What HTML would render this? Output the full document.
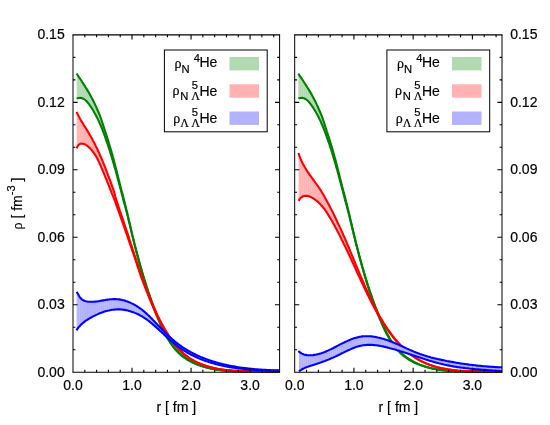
<!DOCTYPE html>
<html><head><meta charset="utf-8"><title>density</title>
<style>html,body{margin:0;padding:0;background:#fff}body{width:550px;height:425px;overflow:hidden}svg{will-change:transform;transform:translateZ(0)}</style></head>
<body>
<svg width="550" height="425" viewBox="0 0 550 425" style="display:block;font-family:'Liberation Sans',sans-serif"><style>text{stroke:#000;stroke-width:0.18px;fill:#000}</style>
<rect x="0" y="0" width="550" height="425" fill="#ffffff"/>
<defs><clipPath id="cl"><rect x="73.0" y="34.9" width="207.2" height="338.1"/></clipPath><clipPath id="cr"><rect x="294.7" y="34.9" width="207.9" height="338.1"/></clipPath></defs>
<g clip-path="url(#cl)">
<g fill="#b2d9b2" stroke="none"><path d="M76.68 73.65L77.68 75.17L77.68 98.25L76.68 98.57Z"/><path d="M77.43 74.79L79.75 78.29L79.75 97.86L77.43 98.33Z"/><path d="M79.50 77.92L81.81 81.42L81.81 98.13L79.50 97.91Z"/><path d="M81.56 81.04L83.88 84.59L83.88 99.01L81.56 98.10Z"/><path d="M83.63 84.21L85.95 87.85L85.95 100.61L83.63 98.91Z"/><path d="M85.70 87.46L88.01 91.25L88.01 102.82L85.70 100.42Z"/><path d="M87.76 90.84L90.08 94.84L90.08 105.64L87.76 102.56Z"/><path d="M89.83 94.41L92.14 98.69L92.14 108.81L89.83 105.30Z"/><path d="M91.89 98.23L94.21 102.81L94.21 112.25L91.89 108.43Z"/><path d="M93.96 102.31L96.28 107.20L96.28 116.00L93.96 111.84Z"/><path d="M96.03 106.67L98.34 111.92L98.34 120.13L96.03 115.55Z"/><path d="M98.09 111.35L100.41 116.94L100.41 124.74L98.09 119.63Z"/><path d="M100.16 116.34L102.47 122.93L102.47 129.81L100.16 124.19Z"/><path d="M102.22 122.22L104.54 129.49L104.54 135.33L102.22 129.20Z"/><path d="M104.29 128.71L106.61 135.81L106.61 141.27L104.29 134.67Z"/><path d="M106.36 135.04L108.67 142.46L108.67 147.44L106.36 140.56Z"/><path d="M108.42 141.66L110.74 149.24L110.74 153.91L108.42 146.70Z"/><path d="M110.49 148.42L112.80 156.46L112.80 160.75L110.49 153.13Z"/><path d="M112.55 155.60L114.87 164.12L114.87 167.94L112.55 159.93Z"/><path d="M114.62 163.20L116.94 172.29L116.94 175.55L114.62 167.07Z"/><path d="M116.69 171.31L119.00 180.84L119.00 183.31L116.69 174.63Z"/><path d="M118.75 179.81L121.07 188.69L121.07 191.04L118.75 182.37Z"/><path d="M120.82 187.73L123.13 196.79L123.13 199.01L120.82 190.10Z"/><path d="M122.88 195.81L125.20 204.99L125.20 206.73L122.88 198.05Z"/><path d="M124.95 204.00L127.27 213.23L127.27 214.46L124.95 205.79Z"/><path d="M127.02 212.24L129.33 222.07L129.33 222.92L127.02 213.52Z"/><path d="M129.08 221.01L131.40 231.04L131.40 231.47L129.08 221.90Z"/><path d="M131.15 229.96L133.46 239.77L133.46 239.95L131.15 230.44Z"/><path d="M133.21 238.71L135.53 247.95L135.53 248.03L133.21 238.92Z"/><path d="M135.28 246.95L137.60 255.81L137.60 255.94L135.28 247.05Z"/><path d="M137.35 254.85L139.66 263.34L139.66 263.66L137.35 254.98Z"/><path d="M139.41 262.42L141.73 270.52L141.73 271.14L139.41 262.72Z"/><path d="M141.48 269.64L143.79 277.41L143.79 278.32L141.48 270.23Z"/><path d="M143.54 276.57L145.86 284.03L145.86 285.18L143.54 277.44Z"/><path d="M145.61 283.22L147.93 290.38L147.93 291.70L145.61 284.34Z"/><path d="M147.68 289.61L149.99 296.36L149.99 297.79L147.68 290.90Z"/><path d="M149.74 295.63L152.06 302.13L152.06 303.60L149.74 297.04Z"/><path d="M151.81 301.43L154.12 307.70L154.12 309.13L151.81 302.89Z"/><path d="M153.87 307.02L156.19 313.10L156.19 314.37L153.87 308.45Z"/><path d="M155.94 312.45L158.26 318.29L158.26 319.36L155.94 313.73Z"/><path d="M158.01 317.66L160.32 323.15L160.32 324.13L158.01 318.75Z"/><path d="M160.07 322.56L162.39 327.68L162.39 328.60L160.07 323.55Z"/><path d="M162.14 327.12L164.45 331.85L164.45 332.81L162.14 328.06Z"/><path d="M164.20 331.34L166.52 335.73L166.52 336.70L164.20 332.30Z"/><path d="M166.27 335.25L168.59 339.24L168.59 340.22L166.27 336.23Z"/><path d="M168.34 338.81L170.65 342.42L170.65 343.41L168.34 339.79Z"/><path d="M170.40 342.03L172.72 345.31L172.72 346.29L170.40 343.02Z"/><path d="M172.47 344.96L174.78 347.91L174.78 348.87L172.47 345.94Z"/><path d="M174.53 347.59L176.85 350.26L176.85 351.19L174.53 348.55Z"/><path d="M176.60 349.97L178.92 352.40L178.92 353.28L176.60 350.91Z"/><path d="M178.67 352.13L180.98 354.30L180.98 355.13L178.67 353.02Z"/><path d="M180.73 354.07L183.05 356.02L183.05 356.79L180.73 354.90Z"/><path d="M182.80 355.81L185.11 357.58L185.11 358.27L182.80 356.58Z"/><path d="M184.86 357.39L187.18 358.97L187.18 359.59L184.86 358.09Z"/><path d="M186.93 358.80L189.25 360.25L189.25 360.79L186.93 359.43Z"/><path d="M189.00 360.09L191.31 361.41L191.31 361.89L189.00 360.65Z"/><path d="M191.06 361.27L193.38 362.48L193.38 362.88L191.06 361.75Z"/><path d="M193.13 362.35L195.44 363.45L195.44 363.78L193.13 362.76Z"/><path d="M195.19 363.33L197.51 364.34L197.51 364.60L195.19 363.67Z"/><path d="M197.26 364.23L199.58 365.15L199.58 365.35L197.26 364.50Z"/><path d="M199.33 365.05L201.64 365.89L201.64 366.04L199.33 365.26Z"/><path d="M201.39 365.80L203.71 366.58L203.71 366.67L201.39 365.96Z"/><path d="M203.46 366.49L205.77 367.20L205.77 367.24L203.46 366.59Z"/><path d="M205.52 367.12L207.84 367.76L207.84 367.76L205.52 367.17Z"/><path d="M207.59 367.69L209.91 368.27L209.91 368.24L207.59 367.70Z"/><path d="M209.66 368.21L211.97 368.73L211.97 368.67L209.66 368.18Z"/><path d="M211.72 368.67L214.04 369.14L214.04 369.05L211.72 368.61Z"/><path d="M213.79 369.09L216.10 369.51L216.10 369.40L213.79 369.00Z"/><path d="M215.85 369.46L218.17 369.83L218.17 369.71L215.85 369.35Z"/><path d="M217.92 369.79L220.24 370.11L220.24 369.98L217.92 369.67Z"/><path d="M219.99 370.08L222.30 370.36L222.30 370.22L219.99 369.94Z"/><path d="M222.05 370.33L224.37 370.56L224.37 370.43L222.05 370.19Z"/><path d="M224.12 370.54L226.43 370.74L226.43 370.61L224.12 370.40Z"/><path d="M226.18 370.72L228.50 370.88L228.50 370.76L226.18 370.59Z"/><path d="M228.25 370.87L230.57 371.00L230.57 370.89L228.25 370.74Z"/><path d="M230.32 370.99L232.63 371.10L232.63 371.00L230.32 370.87Z"/><path d="M232.38 371.08L234.70 371.17L234.70 371.08L232.38 370.98Z"/><path d="M234.45 371.16L236.76 371.22L236.76 371.15L234.45 371.07Z"/><path d="M236.51 371.21L238.83 371.25L238.83 371.20L236.51 371.14Z"/><path d="M238.58 371.25L240.90 371.27L240.90 371.23L238.58 371.19Z"/><path d="M240.65 371.27L242.96 371.28L242.96 371.26L240.65 371.23Z"/><path d="M242.71 371.28L245.03 371.27L245.03 371.27L242.71 371.25Z"/><path d="M244.78 371.27L247.09 371.26L247.09 371.27L244.78 371.27Z"/><path d="M246.84 371.26L249.16 371.24L249.16 371.27L246.84 371.27Z"/><path d="M248.91 371.24L251.23 371.22L251.23 371.27L248.91 371.27Z"/><path d="M250.98 371.22L253.29 371.19L253.29 371.26L250.98 371.27Z"/><path d="M253.04 371.20L255.36 371.17L255.36 371.26L253.04 371.26Z"/><path d="M255.11 371.18L257.42 371.15L257.42 371.25L255.11 371.26Z"/><path d="M257.17 371.16L259.49 371.14L259.49 371.26L257.17 371.25Z"/><path d="M259.24 371.14L261.56 371.14L261.56 371.26L259.24 371.26Z"/><path d="M261.31 371.14L263.62 371.15L263.62 371.28L261.31 371.26Z"/><path d="M263.37 371.15L265.69 371.17L265.69 371.31L263.37 371.28Z"/><path d="M265.44 371.17L267.75 371.21L267.75 371.35L265.44 371.30Z"/><path d="M267.50 371.20L269.82 371.26L269.82 371.40L267.50 371.34Z"/><path d="M269.57 371.26L271.89 371.34L271.89 371.47L269.57 371.40Z"/><path d="M271.64 371.33L273.95 371.45L273.95 371.57L271.64 371.47Z"/><path d="M273.70 371.43L276.02 371.58L276.02 371.68L273.70 371.55Z"/><path d="M275.77 371.56L278.08 371.74L278.08 371.81L275.77 371.66Z"/><path d="M277.83 371.72L279.35 371.86L279.35 371.91L277.83 371.80Z"/></g>
<path d="M76.6 73.5 L77.7 75.2 L78.8 76.9 L80.0 78.6 L81.1 80.3 L82.2 82.0 L83.3 83.7 L84.4 85.4 L85.5 87.2 L86.6 88.9 L87.6 90.6 L88.7 92.4 L89.7 94.1 L90.7 95.9 L91.6 97.7 L92.6 99.5 L93.5 101.3 L94.4 103.1 L95.2 104.9 L96.1 106.8 L96.9 108.6 L97.7 110.5 L98.5 112.3 L99.3 114.2 L100.1 116.1 L100.8 118.0 L101.4 119.9 L102.1 121.8 L102.7 123.7 L103.3 125.6 L103.9 127.5 L104.5 129.4 L105.1 131.3 L105.8 133.2 L106.4 135.1 L107.0 137.1 L107.6 139.0 L108.2 140.9 L108.8 142.9 L109.4 144.8 L110.0 146.8 L110.6 148.7 L111.2 150.7 L111.7 152.6 L112.3 154.6 L112.8 156.5 L113.4 158.5 L113.9 160.5 L114.4 162.4 L114.9 164.4 L115.4 166.4 L115.9 168.4 L116.4 170.3 L116.9 172.3 L117.4 174.3 L117.9 176.3 L118.4 178.2 L118.9 180.2 L119.4 182.2 L119.9 184.2 L120.4 186.2 L120.9 188.2 L121.4 190.2 L122.0 192.1 L122.5 194.1 L123.0 196.1 L123.5 198.1 L124.0 200.1 L124.5 202.1 L125.0 204.1 L125.5 206.1 L126.0 208.1 L126.5 210.0 L127.0 212.0 L127.5 214.0 L127.9 216.0 L128.4 218.0 L128.8 220.0 L129.3 222.0 L129.8 223.9 L130.2 225.9 L130.7 227.9 L131.1 229.9 L131.6 231.9 L132.1 233.8 L132.5 235.8 L133.0 237.8 L133.5 239.8 L134.0 241.7 L134.4 243.7 L134.9 245.7 L135.4 247.6 L136.0 249.6 L136.5 251.5 L137.0 253.5 L137.5 255.4 L138.0 257.4 L138.6 259.3 L139.1 261.3 L139.6 263.2 L140.2 265.2 L140.7 267.1 L141.3 269.0 L141.9 271.0 L142.4 272.9 L143.0 274.8 L143.6 276.8 L144.2 278.7 L144.8 280.6 L145.4 282.6 L146.0 284.5 L146.6 286.4 L147.3 288.4 L147.9 290.3 L148.6 292.3 L149.2 294.2 L149.9 296.1 L150.6 298.1 L151.3 300.0 L152.0 302.0 L152.7 303.9 L153.4 305.8 L154.2 307.8 L154.9 309.7 L155.6 311.7 L156.4 313.6 L157.2 315.6 L158.0 317.5 L158.8 319.5 L159.6 321.4 L160.4 323.3 L161.3 325.3 L162.1 327.1 L163.1 329.0 L164.0 330.9 L164.9 332.7 L165.9 334.5 L166.9 336.3 L167.9 338.1 L168.9 339.8 L170.0 341.5 L171.2 343.1 L172.3 344.8 L173.5 346.4 L174.8 347.9 L176.1 349.4 L177.4 350.8 L178.8 352.2 L180.2 353.6 L181.7 354.9 L183.2 356.1 L184.8 357.3 L186.4 358.4 L188.0 359.5 L189.7 360.5 L191.5 361.5 L193.3 362.4 L195.1 363.3 L196.9 364.1 L198.8 364.9 L200.7 365.6 L202.7 366.2 L204.6 366.9 L206.6 367.4 L208.6 367.9 L210.6 368.4 L212.6 368.9 L214.6 369.3 L216.6 369.6 L218.7 369.9 L220.7 370.2 L222.8 370.4 L224.8 370.6 L226.9 370.8 L228.9 370.9 L231.0 371.0 L233.1 371.1 L235.1 371.2 L237.2 371.2 L239.2 371.3 L241.3 371.3 L243.4 371.3 L245.4 371.3 L247.5 371.3 L249.6 371.2 L251.6 371.2 L253.7 371.2 L255.7 371.2 L257.8 371.2 L259.8 371.1 L261.9 371.1 L263.9 371.1 L265.9 371.2 L267.9 371.2 L269.9 371.3 L271.9 371.3 L273.9 371.4 L275.9 371.6 L277.9 371.7 L279.8 371.9" fill="none" stroke="#008000" stroke-width="2.10" stroke-linejoin="round"/>
<path d="M76.7 98.6 L78.6 98.0 L80.5 97.9 L82.2 98.2 L83.8 99.0 L85.2 100.0 L86.6 101.3 L87.9 102.8 L89.2 104.4 L90.4 106.1 L91.5 107.8 L92.6 109.5 L93.6 111.2 L94.6 113.0 L95.6 114.7 L96.5 116.4 L97.4 118.2 L98.2 119.9 L99.1 121.7 L99.8 123.5 L100.6 125.2 L101.3 127.0 L102.1 128.8 L102.8 130.6 L103.4 132.4 L104.1 134.2 L104.8 136.0 L105.4 137.8 L106.0 139.6 L106.6 141.4 L107.3 143.2 L107.9 145.0 L108.5 146.8 L109.1 148.7 L109.7 150.5 L110.2 152.3 L110.8 154.2 L111.4 156.0 L111.9 157.9 L112.5 159.7 L113.0 161.6 L113.6 163.4 L114.1 165.3 L114.6 167.1 L115.2 169.0 L115.7 170.8 L116.2 172.7 L116.7 174.6 L117.2 176.5 L117.7 178.3 L118.2 180.2 L118.7 182.1 L119.2 184.0 L119.7 185.8 L120.2 187.7 L120.7 189.6 L121.2 191.5 L121.7 193.4 L122.2 195.3 L122.7 197.1 L123.1 199.0 L123.6 200.9 L124.1 202.8 L124.7 204.7 L125.2 206.6 L125.7 208.5 L126.2 210.4 L126.7 212.3 L127.2 214.2 L127.7 216.1 L128.1 217.9 L128.6 219.8 L129.0 221.7 L129.5 223.6 L130.0 225.5 L130.4 227.4 L130.9 229.3 L131.3 231.2 L131.8 233.1 L132.2 235.0 L132.7 236.9 L133.2 238.7 L133.6 240.6 L134.1 242.5 L134.6 244.4 L135.1 246.3 L135.6 248.1 L136.0 250.0 L136.5 251.9 L137.0 253.8 L137.5 255.6 L138.0 257.5 L138.5 259.4 L139.0 261.2 L139.5 263.1 L140.0 265.0 L140.5 266.8 L141.0 268.7 L141.6 270.5 L142.1 272.4 L142.6 274.2 L143.1 276.1 L143.7 277.9 L144.2 279.8 L144.8 281.6 L145.3 283.4 L145.9 285.3 L146.5 287.1 L147.0 289.0 L147.6 290.8 L148.2 292.6 L148.9 294.5 L149.5 296.3 L150.1 298.1 L150.8 300.0 L151.4 301.8 L152.1 303.6 L152.7 305.4 L153.4 307.3 L154.1 309.1 L154.8 310.9 L155.6 312.8 L156.3 314.6 L157.0 316.4 L157.8 318.3 L158.6 320.1 L159.4 321.9 L160.2 323.7 L161.0 325.6 L161.8 327.4 L162.7 329.2 L163.5 331.0 L164.4 332.7 L165.3 334.5 L166.3 336.2 L167.2 337.9 L168.2 339.6 L169.3 341.3 L170.3 342.9 L171.4 344.5 L172.5 346.0 L173.7 347.6 L174.9 349.0 L176.2 350.5 L177.5 351.8 L178.8 353.2 L180.2 354.4 L181.6 355.7 L183.1 356.8 L184.7 357.9 L186.2 359.0 L187.9 360.0 L189.5 360.9 L191.2 361.8 L192.9 362.7 L194.7 363.5 L196.5 364.2 L198.3 364.9 L200.2 365.6 L202.0 366.2 L203.9 366.7 L205.8 367.3 L207.7 367.7 L209.6 368.2 L211.6 368.6 L213.5 369.0 L215.4 369.3 L217.4 369.6 L219.3 369.9 L221.2 370.1 L223.2 370.3 L225.1 370.5 L227.0 370.7 L228.9 370.8 L230.9 370.9 L232.8 371.0 L234.7 371.1 L236.7 371.1 L238.6 371.2 L240.5 371.2 L242.5 371.3 L244.4 371.3 L246.4 371.3 L248.3 371.3 L250.2 371.3 L252.2 371.3 L254.1 371.3 L256.0 371.3 L258.0 371.3 L259.9 371.3 L261.9 371.3 L263.8 371.3 L265.7 371.3 L267.7 371.3 L269.6 371.4 L271.6 371.5 L273.5 371.5 L275.5 371.6 L277.4 371.8 L279.4 371.9" fill="none" stroke="#008000" stroke-width="2.10" stroke-linejoin="round"/>

<g fill="#ffb2b2" stroke="none"><path d="M76.70 111.85L77.68 114.11L77.68 145.98L76.70 148.29Z"/><path d="M77.43 113.54L79.75 118.18L79.75 144.05L77.43 146.56Z"/><path d="M79.50 117.68L81.81 121.79L81.81 143.56L79.50 144.32Z"/><path d="M81.56 121.35L83.88 125.19L83.88 143.95L81.56 143.65Z"/><path d="M83.63 124.78L85.95 128.46L85.95 144.90L83.63 143.91Z"/><path d="M85.70 128.06L88.01 131.81L88.01 146.44L85.70 144.80Z"/><path d="M87.76 131.40L90.08 135.32L90.08 148.35L87.76 146.26Z"/><path d="M89.83 134.90L92.14 139.00L92.14 150.68L89.83 148.13Z"/><path d="M91.89 138.56L94.21 142.85L94.21 153.44L91.89 150.40Z"/><path d="M93.96 142.39L96.28 146.88L96.28 156.76L93.96 153.11Z"/><path d="M96.03 146.39L98.34 151.12L98.34 160.71L96.03 156.36Z"/><path d="M98.09 150.61L100.41 155.89L100.41 165.23L98.09 160.24Z"/><path d="M100.16 155.32L102.47 160.81L102.47 170.00L100.16 164.69Z"/><path d="M102.22 160.22L104.54 165.94L104.54 174.93L102.22 169.42Z"/><path d="M104.29 165.32L106.61 171.24L106.61 180.00L104.29 174.34Z"/><path d="M106.36 170.61L108.67 176.67L108.67 185.21L106.36 179.39Z"/><path d="M108.42 176.01L110.74 182.29L110.74 190.54L108.42 184.58Z"/><path d="M110.49 181.61L112.80 188.10L112.80 195.72L110.49 189.89Z"/><path d="M112.55 187.40L114.87 194.53L114.87 200.89L112.55 195.09Z"/><path d="M114.62 193.76L116.94 202.17L116.94 206.57L114.62 200.26Z"/><path d="M116.69 201.26L119.00 208.03L119.00 212.32L116.69 205.89Z"/><path d="M118.75 207.30L121.07 214.21L121.07 218.15L118.75 211.62Z"/><path d="M120.82 213.47L123.13 220.35L123.13 224.04L120.82 217.44Z"/><path d="M122.88 219.60L125.20 226.47L125.20 229.99L122.88 223.33Z"/><path d="M124.95 225.73L127.27 232.64L127.27 235.98L124.95 229.27Z"/><path d="M127.02 231.90L129.33 238.84L129.33 241.99L127.02 235.26Z"/><path d="M129.08 238.09L131.40 245.24L131.40 247.97L129.08 241.26Z"/><path d="M131.15 244.47L133.46 251.69L133.46 253.94L131.15 247.25Z"/><path d="M133.21 250.91L135.53 258.06L135.53 259.97L133.21 253.22Z"/><path d="M135.28 257.29L137.60 264.34L137.60 266.33L135.28 259.25Z"/><path d="M137.35 263.58L139.66 270.50L139.66 272.56L137.35 265.56Z"/><path d="M139.41 269.75L141.73 276.50L141.73 278.40L139.41 271.80Z"/><path d="M141.48 275.77L143.79 282.13L143.79 283.88L141.48 277.69Z"/><path d="M143.54 281.45L145.86 287.65L145.86 289.29L143.54 283.21Z"/><path d="M145.61 286.98L147.93 292.99L147.93 294.56L145.61 288.63Z"/><path d="M147.68 292.34L149.99 298.21L149.99 299.71L147.68 293.92Z"/><path d="M149.74 297.58L152.06 303.21L152.06 304.65L149.74 299.09Z"/><path d="M151.81 302.61L154.12 307.98L154.12 309.36L151.81 304.05Z"/><path d="M153.87 307.40L156.19 312.51L156.19 313.85L153.87 308.79Z"/><path d="M155.94 311.96L158.26 316.82L158.26 318.08L155.94 313.31Z"/><path d="M158.01 316.29L160.32 320.88L160.32 322.07L158.01 317.56Z"/><path d="M160.07 320.39L162.39 324.76L162.39 325.88L160.07 321.59Z"/><path d="M162.14 324.29L164.45 328.44L164.45 329.50L162.14 325.42Z"/><path d="M164.20 327.99L166.52 331.93L166.52 332.93L164.20 329.06Z"/><path d="M166.27 331.51L168.59 335.23L168.59 336.17L166.27 332.51Z"/><path d="M168.34 334.83L170.65 338.37L170.65 339.24L168.34 335.77Z"/><path d="M170.40 337.98L172.72 341.29L172.72 342.09L170.40 338.86Z"/><path d="M172.47 340.93L174.78 344.01L174.78 344.74L172.47 341.74Z"/><path d="M174.53 343.67L176.85 346.52L176.85 347.18L174.53 344.41Z"/><path d="M176.60 346.22L178.92 348.84L178.92 349.44L176.60 346.88Z"/><path d="M178.67 348.55L180.98 350.97L180.98 351.51L178.67 349.16Z"/><path d="M180.73 350.71L183.05 352.93L183.05 353.40L180.73 351.26Z"/><path d="M182.80 352.69L185.11 354.71L185.11 355.13L182.80 353.17Z"/><path d="M184.86 354.49L187.18 356.34L187.18 356.71L184.86 354.92Z"/><path d="M186.93 356.14L189.25 357.80L189.25 358.12L186.93 356.51Z"/><path d="M189.00 357.62L191.31 359.14L191.31 359.42L189.00 357.95Z"/><path d="M191.06 358.98L193.38 360.37L193.38 360.59L191.06 359.26Z"/><path d="M193.13 360.22L195.44 361.47L195.44 361.66L193.13 360.45Z"/><path d="M195.19 361.33L197.51 362.49L197.51 362.65L195.19 361.53Z"/><path d="M197.26 362.36L199.58 363.42L199.58 363.55L197.26 362.53Z"/><path d="M199.33 363.30L201.64 364.27L201.64 364.37L199.33 363.44Z"/><path d="M201.39 364.17L203.71 365.05L203.71 365.13L201.39 364.27Z"/><path d="M203.46 364.95L205.77 365.76L205.77 365.82L203.46 365.04Z"/><path d="M205.52 365.67L207.84 366.41L207.84 366.45L205.52 365.74Z"/><path d="M207.59 366.33L209.91 367.01L209.91 367.03L207.59 366.37Z"/><path d="M209.66 366.94L211.97 367.55L211.97 367.56L209.66 366.96Z"/><path d="M211.72 367.49L214.04 368.04L214.04 368.04L211.72 367.49Z"/><path d="M213.79 367.98L216.10 368.48L216.10 368.47L213.79 367.98Z"/><path d="M215.85 368.43L218.17 368.88L218.17 368.86L215.85 368.42Z"/><path d="M217.92 368.83L220.24 369.23L220.24 369.22L217.92 368.82Z"/><path d="M219.99 369.19L222.30 369.55L222.30 369.53L219.99 369.17Z"/><path d="M222.05 369.51L224.37 369.83L224.37 369.81L222.05 369.49Z"/><path d="M224.12 369.80L226.43 370.08L226.43 370.06L224.12 369.78Z"/><path d="M226.18 370.05L228.50 370.30L228.50 370.28L226.18 370.03Z"/><path d="M228.25 370.27L230.57 370.48L230.57 370.47L228.25 370.25Z"/><path d="M230.32 370.46L232.63 370.64L232.63 370.63L230.32 370.44Z"/><path d="M232.38 370.62L234.70 370.78L234.70 370.77L232.38 370.61Z"/><path d="M234.45 370.76L236.76 370.89L236.76 370.89L234.45 370.76Z"/><path d="M236.51 370.87L238.83 370.98L238.83 370.99L236.51 370.88Z"/><path d="M238.58 370.97L240.90 371.06L240.90 371.07L238.58 370.98Z"/><path d="M240.65 371.05L242.96 371.12L242.96 371.13L240.65 371.06Z"/><path d="M242.71 371.11L245.03 371.16L245.03 371.19L242.71 371.13Z"/><path d="M244.78 371.16L247.09 371.20L247.09 371.22L244.78 371.18Z"/><path d="M246.84 371.19L249.16 371.22L249.16 371.25L246.84 371.22Z"/><path d="M248.91 371.22L251.23 371.23L251.23 371.28L248.91 371.25Z"/><path d="M250.98 371.23L253.29 371.25L253.29 371.29L250.98 371.27Z"/><path d="M253.04 371.24L255.36 371.25L255.36 371.30L253.04 371.29Z"/><path d="M255.11 371.25L257.42 371.26L257.42 371.31L255.11 371.30Z"/><path d="M257.17 371.26L259.49 371.27L259.49 371.32L257.17 371.31Z"/><path d="M259.24 371.26L261.56 371.27L261.56 371.33L259.24 371.32Z"/><path d="M261.31 371.27L263.62 371.29L263.62 371.35L261.31 371.33Z"/><path d="M263.37 371.29L265.69 371.31L265.69 371.37L263.37 371.35Z"/><path d="M265.44 371.31L267.75 371.34L267.75 371.40L265.44 371.37Z"/><path d="M267.50 371.33L269.82 371.38L269.82 371.44L267.50 371.40Z"/><path d="M269.57 371.37L271.89 371.43L271.89 371.49L269.57 371.43Z"/><path d="M271.64 371.43L273.95 371.50L273.95 371.55L271.64 371.48Z"/><path d="M273.70 371.50L276.02 371.59L276.02 371.63L273.70 371.54Z"/><path d="M275.77 371.58L278.08 371.70L278.08 371.73L275.77 371.62Z"/><path d="M277.83 371.69L279.45 371.79L279.45 371.80L277.83 371.72Z"/></g>
<path d="M76.7 111.9 L77.4 113.5 L78.2 115.2 L79.0 116.8 L79.9 118.5 L80.8 120.1 L81.7 121.6 L82.7 123.2 L83.6 124.8 L84.6 126.4 L85.6 127.9 L86.6 129.5 L87.6 131.1 L88.5 132.6 L89.4 134.2 L90.4 135.8 L91.3 137.4 L92.2 139.1 L93.0 140.7 L93.9 142.3 L94.8 143.9 L95.6 145.6 L96.4 147.2 L97.3 148.9 L98.0 150.5 L98.8 152.2 L99.5 153.8 L100.2 155.5 L101.0 157.2 L101.7 158.9 L102.4 160.5 L103.0 162.2 L103.7 163.9 L104.4 165.6 L105.1 167.3 L105.7 169.0 L106.4 170.7 L107.0 172.4 L107.7 174.1 L108.3 175.8 L109.0 177.5 L109.6 179.2 L110.2 180.9 L110.9 182.7 L111.5 184.4 L112.1 186.1 L112.7 187.8 L113.3 189.6 L113.9 191.3 L114.4 193.0 L114.9 194.8 L115.3 196.5 L115.8 198.2 L116.2 200.0 L116.9 201.7 L117.5 203.5 L118.0 205.2 L118.6 207.0 L119.2 208.7 L119.8 210.5 L120.4 212.2 L121.0 214.0 L121.6 215.7 L122.2 217.5 L122.8 219.2 L123.4 221.0 L123.9 222.7 L124.5 224.5 L125.1 226.3 L125.7 228.0 L126.3 229.8 L126.9 231.5 L127.5 233.3 L128.1 235.0 L128.7 236.8 L129.2 238.6 L129.8 240.3 L130.4 242.1 L130.9 243.8 L131.5 245.6 L132.1 247.3 L132.6 249.1 L133.2 250.9 L133.8 252.6 L134.3 254.4 L134.9 256.1 L135.5 257.9 L136.0 259.6 L136.6 261.4 L137.2 263.1 L137.8 264.9 L138.4 266.6 L138.9 268.3 L139.5 270.1 L140.1 271.8 L140.7 273.6 L141.3 275.3 L141.9 277.0 L142.6 278.8 L143.2 280.5 L143.8 282.2 L144.5 283.9 L145.1 285.7 L145.8 287.4 L146.4 289.1 L147.1 290.8 L147.8 292.5 L148.4 294.2 L149.1 296.0 L149.8 297.7 L150.5 299.4 L151.2 301.1 L151.9 302.7 L152.6 304.4 L153.3 306.1 L154.1 307.8 L154.8 309.5 L155.6 311.2 L156.3 312.8 L157.1 314.5 L157.9 316.2 L158.8 317.8 L159.6 319.5 L160.5 321.1 L161.3 322.8 L162.2 324.4 L163.1 326.0 L164.0 327.7 L165.0 329.3 L165.9 330.9 L166.9 332.5 L167.9 334.1 L168.9 335.7 L169.9 337.3 L171.0 338.8 L172.0 340.3 L173.1 341.8 L174.2 343.3 L175.4 344.8 L176.6 346.2 L177.8 347.6 L179.0 348.9 L180.3 350.2 L181.6 351.5 L182.9 352.8 L184.2 354.0 L185.6 355.1 L187.1 356.2 L188.5 357.3 L190.0 358.3 L191.5 359.3 L193.1 360.2 L194.7 361.1 L196.3 361.9 L197.9 362.7 L199.6 363.4 L201.3 364.1 L203.0 364.8 L204.7 365.4 L206.5 366.0 L208.2 366.5 L210.0 367.0 L211.8 367.5 L213.6 367.9 L215.4 368.3 L217.2 368.7 L219.0 369.0 L220.8 369.3 L222.6 369.6 L224.5 369.8 L226.3 370.1 L228.1 370.3 L230.0 370.4 L231.8 370.6 L233.7 370.7 L235.5 370.8 L237.4 370.9 L239.3 371.0 L241.1 371.1 L243.0 371.1 L244.8 371.2 L246.7 371.2 L248.6 371.2 L250.4 371.2 L252.3 371.2 L254.1 371.2 L256.0 371.3 L257.8 371.3 L259.7 371.3 L261.5 371.3 L263.4 371.3 L265.2 371.3 L267.1 371.3 L268.9 371.4 L270.7 371.4 L272.5 371.5 L274.3 371.5 L276.2 371.6 L278.0 371.7 L279.7 371.8" fill="none" stroke="#ff0000" stroke-width="2.10" stroke-linejoin="round"/>
<path d="M76.7 148.3 L77.5 146.3 L78.6 144.9 L79.9 144.0 L81.3 143.6 L82.8 143.7 L84.3 144.1 L85.8 144.8 L87.2 145.8 L88.6 147.0 L90.0 148.2 L91.2 149.6 L92.4 151.0 L93.4 152.4 L94.4 153.8 L95.4 155.3 L96.3 156.8 L97.1 158.3 L97.9 159.8 L98.6 161.4 L99.4 163.0 L100.1 164.5 L100.8 166.1 L101.5 167.7 L102.2 169.3 L102.8 170.9 L103.5 172.5 L104.2 174.1 L104.8 175.7 L105.5 177.3 L106.1 178.9 L106.8 180.5 L107.4 182.1 L108.1 183.7 L108.7 185.3 L109.3 186.9 L109.9 188.5 L110.6 190.1 L111.2 191.7 L111.8 193.3 L112.5 194.9 L113.2 196.6 L113.8 198.2 L114.5 199.8 L115.1 201.4 L115.7 203.1 L116.2 204.7 L116.8 206.3 L117.4 207.9 L118.0 209.6 L118.6 211.2 L119.2 212.8 L119.8 214.4 L120.3 216.1 L120.9 217.7 L121.5 219.3 L122.1 221.0 L122.6 222.6 L123.2 224.2 L123.8 225.9 L124.3 227.5 L124.9 229.1 L125.5 230.8 L126.0 232.4 L126.6 234.0 L127.2 235.7 L127.7 237.3 L128.3 239.0 L128.9 240.6 L129.4 242.2 L130.0 243.9 L130.5 245.5 L131.1 247.1 L131.7 248.8 L132.2 250.4 L132.8 252.0 L133.4 253.7 L133.9 255.3 L134.5 256.9 L135.1 258.6 L135.6 260.2 L136.1 261.8 L136.7 263.5 L137.2 265.1 L137.7 266.7 L138.3 268.3 L138.8 270.0 L139.3 271.6 L139.9 273.2 L140.4 274.8 L141.0 276.5 L141.6 278.1 L142.2 279.7 L142.8 281.3 L143.4 282.9 L144.0 284.5 L144.7 286.2 L145.3 287.8 L145.9 289.4 L146.5 291.0 L147.2 292.6 L147.8 294.2 L148.4 295.8 L149.1 297.4 L149.7 299.0 L150.4 300.6 L151.0 302.2 L151.7 303.8 L152.4 305.4 L153.1 306.9 L153.8 308.5 L154.5 310.1 L155.2 311.7 L155.9 313.2 L156.6 314.8 L157.4 316.4 L158.2 317.9 L159.0 319.5 L159.8 321.0 L160.6 322.6 L161.4 324.1 L162.3 325.7 L163.1 327.2 L164.0 328.7 L164.9 330.3 L165.8 331.8 L166.7 333.3 L167.7 334.8 L168.7 336.3 L169.6 337.7 L170.6 339.2 L171.6 340.6 L172.7 342.0 L173.7 343.4 L174.8 344.8 L175.9 346.1 L177.0 347.4 L178.2 348.7 L179.4 349.9 L180.6 351.1 L181.8 352.3 L183.1 353.5 L184.4 354.6 L185.7 355.6 L187.1 356.6 L188.5 357.6 L189.9 358.6 L191.4 359.5 L192.9 360.3 L194.4 361.1 L195.9 361.9 L197.4 362.6 L199.0 363.3 L200.6 364.0 L202.2 364.6 L203.8 365.2 L205.5 365.7 L207.1 366.2 L208.8 366.7 L210.5 367.2 L212.2 367.6 L213.8 368.0 L215.5 368.4 L217.2 368.7 L218.9 369.0 L220.6 369.3 L222.4 369.5 L224.1 369.8 L225.8 370.0 L227.5 370.2 L229.2 370.3 L231.0 370.5 L232.7 370.6 L234.4 370.8 L236.2 370.9 L237.9 370.9 L239.6 371.0 L241.4 371.1 L243.1 371.1 L244.8 371.2 L246.6 371.2 L248.3 371.2 L250.1 371.3 L251.8 371.3 L253.5 371.3 L255.3 371.3 L257.0 371.3 L258.8 371.3 L260.5 371.3 L262.2 371.3 L264.0 371.4 L265.7 371.4 L267.4 371.4 L269.2 371.4 L270.9 371.5 L272.6 371.5 L274.3 371.6 L276.0 371.6 L277.7 371.7 L279.4 371.8" fill="none" stroke="#ff0000" stroke-width="2.10" stroke-linejoin="round"/>

<g fill="#b2b2ff" stroke="none"><path d="M76.61 291.79L77.68 293.52L77.68 328.56L76.61 330.17Z"/><path d="M77.43 293.12L79.75 297.00L79.75 326.01L77.43 328.93Z"/><path d="M79.50 296.58L81.81 299.37L81.81 323.95L79.50 326.32Z"/><path d="M81.56 299.06L83.88 300.61L83.88 322.20L81.56 324.20Z"/><path d="M83.63 300.45L85.95 301.28L85.95 320.66L83.63 322.41Z"/><path d="M85.70 301.19L88.01 301.64L88.01 319.29L85.70 320.85Z"/><path d="M87.76 301.59L90.08 301.81L90.08 318.05L87.76 319.46Z"/><path d="M89.83 301.78L92.14 301.82L92.14 316.91L89.83 318.21Z"/><path d="M91.89 301.82L94.21 301.72L94.21 315.85L91.89 317.05Z"/><path d="M93.96 301.73L96.28 301.50L96.28 314.85L93.96 315.98Z"/><path d="M96.03 301.53L98.34 301.22L98.34 313.92L96.03 314.97Z"/><path d="M98.09 301.25L100.41 300.88L100.41 313.07L98.09 314.04Z"/><path d="M100.16 300.92L102.47 300.52L102.47 312.30L100.16 313.18Z"/><path d="M102.22 300.56L104.54 300.15L104.54 311.61L102.22 312.39Z"/><path d="M104.29 300.19L106.61 299.80L106.61 311.00L104.29 311.69Z"/><path d="M106.36 299.85L108.67 299.50L108.67 310.49L106.36 311.08Z"/><path d="M108.42 299.54L110.74 299.27L110.74 310.06L108.42 310.55Z"/><path d="M110.49 299.30L112.80 299.12L112.80 309.74L110.49 310.12Z"/><path d="M112.55 299.14L114.87 299.09L114.87 309.52L112.55 309.78Z"/><path d="M114.62 299.09L116.94 299.19L116.94 309.40L114.62 309.54Z"/><path d="M116.69 299.18L119.00 299.41L119.00 309.40L116.69 309.41Z"/><path d="M118.75 299.39L121.07 299.75L121.07 309.50L118.75 309.40Z"/><path d="M120.82 299.71L123.13 300.20L123.13 309.72L120.82 309.49Z"/><path d="M122.88 300.15L125.20 300.77L125.20 310.03L122.88 309.69Z"/><path d="M124.95 300.71L127.27 301.46L127.27 310.45L124.95 309.99Z"/><path d="M127.02 301.37L129.33 302.25L129.33 310.96L127.02 310.40Z"/><path d="M129.08 302.16L131.40 303.17L131.40 311.58L129.08 310.90Z"/><path d="M131.15 303.06L133.46 304.20L133.46 312.30L131.15 311.51Z"/><path d="M133.21 304.07L135.53 305.34L135.53 313.13L133.21 312.22Z"/><path d="M135.28 305.21L137.60 306.62L137.60 314.06L135.28 313.03Z"/><path d="M137.35 306.47L139.66 308.02L139.66 315.10L137.35 313.95Z"/><path d="M139.41 307.86L141.73 309.56L141.73 316.26L139.41 314.98Z"/><path d="M141.48 309.37L143.79 311.22L143.79 317.53L141.48 316.12Z"/><path d="M143.54 311.02L145.86 313.00L145.86 318.92L143.54 317.38Z"/><path d="M145.61 312.79L147.93 314.90L147.93 320.41L145.61 318.75Z"/><path d="M147.68 314.67L149.99 316.89L149.99 322.00L147.68 320.23Z"/><path d="M149.74 316.65L152.06 318.97L152.06 323.69L149.74 321.81Z"/><path d="M151.81 318.72L154.12 321.12L154.12 325.46L151.81 323.49Z"/><path d="M153.87 320.86L156.19 323.30L156.19 327.28L153.87 325.24Z"/><path d="M155.94 323.04L158.26 325.50L158.26 329.17L155.94 327.06Z"/><path d="M158.01 325.23L160.32 327.69L160.32 331.08L158.01 328.94Z"/><path d="M160.07 327.42L162.39 329.84L162.39 333.00L160.07 330.85Z"/><path d="M162.14 329.58L164.45 331.93L164.45 334.92L162.14 332.77Z"/><path d="M164.20 331.68L166.52 333.97L166.52 336.81L164.20 334.68Z"/><path d="M166.27 333.72L168.59 335.93L168.59 338.67L166.27 336.58Z"/><path d="M168.34 335.70L170.65 337.83L170.65 340.49L168.34 338.44Z"/><path d="M170.40 337.60L172.72 339.65L172.72 342.24L170.40 340.27Z"/><path d="M172.47 339.42L174.78 341.38L174.78 343.94L172.47 342.03Z"/><path d="M174.53 341.17L176.85 343.04L176.85 345.57L174.53 343.74Z"/><path d="M176.60 342.84L178.92 344.61L178.92 347.12L176.60 345.37Z"/><path d="M178.67 344.42L180.98 346.10L180.98 348.59L178.67 346.93Z"/><path d="M180.73 345.92L183.05 347.50L183.05 349.98L180.73 348.41Z"/><path d="M182.80 347.33L185.11 348.83L185.11 351.28L182.80 349.81Z"/><path d="M184.86 348.67L187.18 350.09L187.18 352.51L184.86 351.12Z"/><path d="M186.93 349.94L189.25 351.28L189.25 353.68L186.93 352.36Z"/><path d="M189.00 351.13L191.31 352.41L191.31 354.78L189.00 353.53Z"/><path d="M191.06 352.27L193.38 353.48L193.38 355.82L191.06 354.64Z"/><path d="M193.13 353.35L195.44 354.50L195.44 356.81L193.13 355.69Z"/><path d="M195.19 354.38L197.51 355.47L197.51 357.74L195.19 356.69Z"/><path d="M197.26 355.35L199.58 356.40L199.58 358.63L197.26 357.63Z"/><path d="M199.33 356.28L201.64 357.27L201.64 359.47L199.33 358.52Z"/><path d="M201.39 357.17L203.71 358.11L203.71 360.26L201.39 359.37Z"/><path d="M203.46 358.01L205.77 358.91L205.77 361.01L203.46 360.17Z"/><path d="M205.52 358.81L207.84 359.67L207.84 361.72L205.52 360.92Z"/><path d="M207.59 359.58L209.91 360.39L209.91 362.39L207.59 361.64Z"/><path d="M209.66 360.30L211.97 361.07L211.97 363.02L209.66 362.31Z"/><path d="M211.72 360.99L214.04 361.73L214.04 363.62L211.72 362.95Z"/><path d="M213.79 361.65L216.10 362.34L216.10 364.18L213.79 363.55Z"/><path d="M215.85 362.27L218.17 362.93L218.17 364.71L215.85 364.11Z"/><path d="M217.92 362.86L220.24 363.48L220.24 365.21L217.92 364.65Z"/><path d="M219.99 363.42L222.30 364.01L222.30 365.67L219.99 365.15Z"/><path d="M222.05 363.95L224.37 364.51L224.37 366.11L222.05 365.62Z"/><path d="M224.12 364.45L226.43 364.98L226.43 366.52L224.12 366.06Z"/><path d="M226.18 364.92L228.50 365.42L228.50 366.90L226.18 366.47Z"/><path d="M228.25 365.37L230.57 365.84L230.57 367.26L228.25 366.85Z"/><path d="M230.32 365.79L232.63 366.23L232.63 367.59L230.32 367.21Z"/><path d="M232.38 366.18L234.70 366.60L234.70 367.90L232.38 367.55Z"/><path d="M234.45 366.56L236.76 366.95L236.76 368.19L234.45 367.86Z"/><path d="M236.51 366.91L238.83 367.27L238.83 368.46L236.51 368.16Z"/><path d="M238.58 367.23L240.90 367.58L240.90 368.71L238.58 368.43Z"/><path d="M240.65 367.54L242.96 367.86L242.96 368.94L240.65 368.68Z"/><path d="M242.71 367.83L245.03 368.13L245.03 369.15L242.71 368.91Z"/><path d="M244.78 368.10L247.09 368.38L247.09 369.34L244.78 369.12Z"/><path d="M246.84 368.35L249.16 368.61L249.16 369.52L246.84 369.32Z"/><path d="M248.91 368.58L251.23 368.82L251.23 369.69L248.91 369.50Z"/><path d="M250.98 368.79L253.29 369.02L253.29 369.84L250.98 369.67Z"/><path d="M253.04 368.99L255.36 369.20L255.36 369.98L253.04 369.82Z"/><path d="M255.11 369.18L257.42 369.37L257.42 370.10L255.11 369.96Z"/><path d="M257.17 369.35L259.49 369.52L259.49 370.22L257.17 370.09Z"/><path d="M259.24 369.50L261.56 369.66L261.56 370.32L259.24 370.20Z"/><path d="M261.31 369.64L263.62 369.79L263.62 370.42L261.31 370.31Z"/><path d="M263.37 369.77L265.69 369.91L265.69 370.51L263.37 370.41Z"/><path d="M265.44 369.89L267.75 370.01L267.75 370.59L265.44 370.50Z"/><path d="M267.50 370.00L269.82 370.11L269.82 370.66L267.50 370.58Z"/><path d="M269.57 370.09L271.89 370.19L271.89 370.73L269.57 370.65Z"/><path d="M271.64 370.18L273.95 370.27L273.95 370.79L271.64 370.72Z"/><path d="M273.70 370.26L276.02 370.33L276.02 370.85L273.70 370.79Z"/><path d="M275.77 370.33L278.08 370.40L278.08 370.91L275.77 370.85Z"/><path d="M277.83 370.39L279.59 370.43L279.59 370.95L277.83 370.90Z"/></g>
<path d="M76.6 291.8 L77.2 292.7 L77.8 293.7 L78.4 294.7 L79.0 295.8 L79.6 296.8 L80.3 297.8 L81.1 298.6 L81.9 299.4 L82.9 300.0 L83.8 300.6 L84.9 301.0 L86.0 301.3 L87.1 301.5 L88.2 301.7 L89.3 301.8 L90.4 301.8 L91.6 301.8 L92.7 301.8 L93.9 301.7 L95.0 301.6 L96.1 301.5 L97.3 301.4 L98.4 301.2 L99.6 301.0 L100.7 300.8 L101.9 300.6 L103.0 300.4 L104.2 300.2 L105.4 300.0 L106.5 299.8 L107.7 299.6 L108.8 299.5 L110.0 299.3 L111.1 299.2 L112.3 299.2 L113.4 299.1 L114.6 299.1 L115.7 299.1 L116.9 299.2 L118.0 299.3 L119.1 299.4 L120.3 299.6 L121.4 299.8 L122.5 300.1 L123.6 300.3 L124.7 300.6 L125.8 301.0 L126.9 301.3 L128.0 301.7 L129.1 302.2 L130.2 302.6 L131.2 303.1 L132.3 303.6 L133.3 304.1 L134.3 304.7 L135.3 305.2 L136.3 305.8 L137.3 306.4 L138.2 307.1 L139.2 307.7 L140.1 308.4 L141.0 309.0 L142.0 309.7 L142.9 310.5 L143.7 311.2 L144.6 311.9 L145.5 312.7 L146.3 313.4 L147.2 314.2 L148.0 315.0 L148.9 315.8 L149.7 316.6 L150.5 317.4 L151.3 318.2 L152.1 319.0 L152.9 319.9 L153.7 320.7 L154.5 321.5 L155.3 322.4 L156.1 323.2 L156.9 324.1 L157.7 324.9 L158.5 325.7 L159.3 326.6 L160.1 327.4 L160.9 328.3 L161.7 329.1 L162.5 329.9 L163.3 330.7 L164.1 331.6 L164.9 332.4 L165.7 333.2 L166.5 334.0 L167.4 334.8 L168.2 335.6 L169.0 336.3 L169.9 337.1 L170.7 337.9 L171.6 338.6 L172.4 339.4 L173.3 340.1 L174.2 340.9 L175.0 341.6 L175.9 342.3 L176.8 343.0 L177.7 343.7 L178.6 344.4 L179.6 345.1 L180.5 345.7 L181.4 346.4 L182.4 347.1 L183.3 347.7 L184.3 348.3 L185.3 348.9 L186.2 349.5 L187.2 350.1 L188.2 350.7 L189.2 351.3 L190.3 351.8 L191.3 352.4 L192.3 352.9 L193.3 353.5 L194.4 354.0 L195.4 354.5 L196.4 355.0 L197.5 355.5 L198.6 355.9 L199.6 356.4 L200.7 356.9 L201.7 357.3 L202.8 357.8 L203.9 358.2 L205.0 358.6 L206.0 359.0 L207.1 359.4 L208.2 359.8 L209.3 360.2 L210.4 360.5 L211.5 360.9 L212.6 361.3 L213.7 361.6 L214.8 361.9 L215.9 362.3 L217.0 362.6 L218.1 362.9 L219.2 363.2 L220.3 363.5 L221.4 363.8 L222.5 364.1 L223.6 364.3 L224.7 364.6 L225.9 364.8 L227.0 365.1 L228.1 365.3 L229.2 365.6 L230.4 365.8 L231.5 366.0 L232.6 366.2 L233.7 366.4 L234.9 366.6 L236.0 366.8 L237.1 367.0 L238.3 367.2 L239.4 367.4 L240.6 367.5 L241.7 367.7 L242.8 367.8 L244.0 368.0 L245.1 368.1 L246.3 368.3 L247.4 368.4 L248.5 368.5 L249.7 368.7 L250.8 368.8 L252.0 368.9 L253.1 369.0 L254.3 369.1 L255.4 369.2 L256.6 369.3 L257.7 369.4 L258.9 369.5 L260.0 369.6 L261.2 369.6 L262.3 369.7 L263.5 369.8 L264.6 369.8 L265.8 369.9 L266.9 370.0 L268.1 370.0 L269.2 370.1 L270.4 370.1 L271.5 370.2 L272.7 370.2 L273.9 370.3 L275.0 370.3 L276.2 370.3 L277.3 370.4 L278.5 370.4 L279.6 370.4" fill="none" stroke="#0000ff" stroke-width="2.10" stroke-linejoin="round"/>
<path d="M76.5 330.4 L77.1 329.4 L77.7 328.5 L78.4 327.6 L79.1 326.7 L79.9 325.9 L80.7 325.1 L81.5 324.3 L82.3 323.5 L83.1 322.8 L84.0 322.1 L84.9 321.4 L85.8 320.7 L86.8 320.1 L87.7 319.5 L88.7 318.9 L89.7 318.3 L90.7 317.7 L91.7 317.2 L92.7 316.6 L93.7 316.1 L94.8 315.6 L95.8 315.1 L96.9 314.6 L97.9 314.1 L99.0 313.6 L100.1 313.2 L101.2 312.8 L102.2 312.4 L103.3 312.0 L104.4 311.6 L105.5 311.3 L106.6 311.0 L107.7 310.7 L108.8 310.5 L110.0 310.2 L111.1 310.0 L112.2 309.8 L113.3 309.7 L114.4 309.6 L115.5 309.5 L116.7 309.4 L117.8 309.4 L118.9 309.4 L120.0 309.4 L121.2 309.5 L122.3 309.6 L123.4 309.8 L124.5 309.9 L125.6 310.1 L126.7 310.3 L127.8 310.6 L128.9 310.9 L130.0 311.2 L131.1 311.5 L132.2 311.9 L133.3 312.2 L134.3 312.6 L135.4 313.1 L136.4 313.5 L137.5 314.0 L138.5 314.5 L139.5 315.0 L140.5 315.6 L141.5 316.1 L142.5 316.7 L143.4 317.3 L144.4 317.9 L145.3 318.6 L146.3 319.2 L147.2 319.9 L148.1 320.5 L149.0 321.2 L149.9 321.9 L150.8 322.7 L151.7 323.4 L152.6 324.1 L153.4 324.9 L154.3 325.6 L155.2 326.4 L156.0 327.1 L156.9 327.9 L157.7 328.7 L158.6 329.4 L159.4 330.2 L160.2 331.0 L161.1 331.8 L161.9 332.6 L162.8 333.3 L163.6 334.1 L164.4 334.9 L165.3 335.7 L166.1 336.4 L167.0 337.2 L167.8 338.0 L168.6 338.7 L169.5 339.5 L170.3 340.2 L171.2 341.0 L172.1 341.7 L172.9 342.4 L173.8 343.1 L174.7 343.9 L175.6 344.6 L176.4 345.3 L177.3 345.9 L178.2 346.6 L179.2 347.3 L180.1 347.9 L181.0 348.6 L181.9 349.2 L182.9 349.9 L183.8 350.5 L184.8 351.1 L185.8 351.7 L186.7 352.3 L187.7 352.8 L188.7 353.4 L189.7 353.9 L190.7 354.5 L191.8 355.0 L192.8 355.5 L193.8 356.0 L194.8 356.5 L195.9 357.0 L196.9 357.5 L198.0 357.9 L199.0 358.4 L200.1 358.8 L201.1 359.3 L202.2 359.7 L203.3 360.1 L204.3 360.5 L205.4 360.9 L206.5 361.3 L207.6 361.6 L208.6 362.0 L209.7 362.3 L210.8 362.7 L211.9 363.0 L213.0 363.3 L214.1 363.6 L215.2 363.9 L216.3 364.2 L217.4 364.5 L218.5 364.8 L219.6 365.1 L220.7 365.3 L221.8 365.6 L222.9 365.8 L224.0 366.0 L225.1 366.3 L226.3 366.5 L227.4 366.7 L228.5 366.9 L229.6 367.1 L230.7 367.3 L231.9 367.5 L233.0 367.6 L234.1 367.8 L235.2 368.0 L236.4 368.1 L237.5 368.3 L238.6 368.4 L239.8 368.6 L240.9 368.7 L242.0 368.8 L243.2 369.0 L244.3 369.1 L245.4 369.2 L246.6 369.3 L247.7 369.4 L248.9 369.5 L250.0 369.6 L251.1 369.7 L252.3 369.8 L253.4 369.8 L254.6 369.9 L255.7 370.0 L256.8 370.1 L258.0 370.1 L259.1 370.2 L260.3 370.3 L261.4 370.3 L262.5 370.4 L263.7 370.4 L264.8 370.5 L266.0 370.5 L267.1 370.6 L268.2 370.6 L269.4 370.6 L270.5 370.7 L271.7 370.7 L272.8 370.8 L273.9 370.8 L275.1 370.8 L276.2 370.9 L277.3 370.9 L278.5 370.9 L279.6 371.0" fill="none" stroke="#0000ff" stroke-width="2.10" stroke-linejoin="round"/>

</g>
<g clip-path="url(#cr)">
<g fill="#b2d9b2" stroke="none"><path d="M298.38 73.65L299.39 75.19L299.39 98.25L298.38 98.57Z"/><path d="M299.14 74.81L301.47 78.32L301.47 97.86L299.14 98.33Z"/><path d="M301.22 77.94L303.54 81.46L303.54 98.13L301.22 97.91Z"/><path d="M303.29 81.08L305.61 84.64L305.61 99.02L303.29 98.11Z"/><path d="M305.36 84.26L307.68 87.91L307.68 100.64L305.36 98.93Z"/><path d="M307.43 87.52L309.75 91.32L309.75 102.87L307.43 100.46Z"/><path d="M309.50 90.91L311.83 94.93L311.83 105.71L309.50 102.61Z"/><path d="M311.58 94.50L313.90 98.79L313.90 108.90L311.58 105.37Z"/><path d="M313.65 98.33L315.97 102.93L315.97 112.36L313.65 108.52Z"/><path d="M315.72 102.43L318.04 107.35L318.04 116.12L315.72 111.94Z"/><path d="M317.79 106.82L320.11 112.09L320.11 120.28L317.79 115.67Z"/><path d="M319.86 111.52L322.19 117.14L322.19 124.93L319.86 119.78Z"/><path d="M321.94 116.54L324.26 123.19L324.26 130.03L321.94 124.37Z"/><path d="M324.01 122.48L326.33 129.77L326.33 135.58L324.01 129.42Z"/><path d="M326.08 128.98L328.40 136.11L328.40 141.55L326.08 134.92Z"/><path d="M328.15 135.34L330.47 142.78L330.47 147.75L328.15 140.84Z"/><path d="M330.22 141.98L332.55 149.61L332.55 154.26L330.22 147.01Z"/><path d="M332.30 148.79L334.62 156.88L334.62 161.14L332.30 153.48Z"/><path d="M334.37 156.00L336.69 164.57L336.69 168.37L334.37 160.32Z"/><path d="M336.44 163.65L338.76 172.80L338.76 176.02L336.44 167.51Z"/><path d="M338.51 171.82L340.83 181.37L340.83 183.80L338.51 175.10Z"/><path d="M340.58 180.34L342.91 189.22L342.91 191.57L340.58 182.86Z"/><path d="M342.66 188.27L344.98 197.36L344.98 199.57L342.66 190.63Z"/><path d="M344.73 196.38L347.05 205.59L347.05 207.28L344.73 198.61Z"/><path d="M346.80 204.60L349.12 213.86L349.12 215.04L346.80 206.35Z"/><path d="M348.87 212.86L351.19 222.79L351.19 223.59L348.87 214.11Z"/><path d="M350.94 221.72L353.27 231.76L353.27 232.17L350.94 222.57Z"/><path d="M353.02 230.68L355.34 240.49L355.34 240.65L353.02 231.13Z"/><path d="M355.09 239.44L357.41 248.65L357.41 248.73L355.09 239.62Z"/><path d="M357.16 247.65L359.48 256.50L359.48 256.65L357.16 247.75Z"/><path d="M359.23 255.55L361.55 264.02L361.55 264.36L359.23 255.69Z"/><path d="M361.30 263.11L363.63 271.19L363.63 271.84L361.30 263.43Z"/><path d="M363.38 270.32L365.70 278.08L365.70 279.01L363.38 270.93Z"/><path d="M365.45 277.24L367.77 284.69L367.77 285.86L365.45 278.14Z"/><path d="M367.52 283.88L369.84 291.03L369.84 292.34L367.52 285.03Z"/><path d="M369.59 290.26L371.91 296.99L371.91 298.43L369.59 291.56Z"/><path d="M371.66 296.27L373.99 302.76L373.99 304.22L371.66 297.69Z"/><path d="M373.74 302.06L376.06 308.32L376.06 309.74L373.74 303.52Z"/><path d="M375.81 307.65L378.13 313.72L378.13 314.96L375.81 309.07Z"/><path d="M377.88 313.06L380.20 318.88L380.20 319.94L377.88 314.33Z"/><path d="M379.95 318.26L382.27 323.73L382.27 324.69L379.95 319.34Z"/><path d="M382.02 323.14L384.35 328.21L384.35 329.14L382.02 324.11Z"/><path d="M384.10 327.66L386.42 332.37L386.42 333.33L384.10 328.60Z"/><path d="M386.17 331.86L388.49 336.21L388.49 337.17L386.17 332.82Z"/><path d="M388.24 335.74L390.56 339.69L390.56 340.66L388.24 336.70Z"/><path d="M390.31 339.26L392.63 342.83L392.63 343.82L390.31 340.24Z"/><path d="M392.38 342.45L394.71 345.68L394.71 346.66L392.38 343.43Z"/><path d="M394.46 345.34L396.78 348.27L396.78 349.22L394.46 346.32Z"/><path d="M396.53 347.95L398.85 350.58L398.85 351.51L396.53 348.91Z"/><path d="M398.60 350.30L400.92 352.69L400.92 353.57L398.60 351.23Z"/><path d="M400.67 352.43L402.99 354.57L402.99 355.39L400.67 353.31Z"/><path d="M402.74 354.34L405.07 356.28L405.07 357.03L402.74 355.17Z"/><path d="M404.82 356.07L407.14 357.80L407.14 358.48L404.82 356.83Z"/><path d="M406.89 357.62L409.21 359.19L409.21 359.79L406.89 358.30Z"/><path d="M408.96 359.02L411.28 360.45L411.28 360.98L408.96 359.63Z"/><path d="M411.03 360.29L413.35 361.60L413.35 362.06L411.03 360.84Z"/><path d="M413.10 361.46L415.43 362.65L415.43 363.03L413.10 361.92Z"/><path d="M415.18 362.52L417.50 363.60L417.50 363.92L415.18 362.91Z"/><path d="M417.25 363.49L419.57 364.48L419.57 364.74L417.25 363.81Z"/><path d="M419.32 364.37L421.64 365.29L421.64 365.48L419.32 364.64Z"/><path d="M421.39 365.19L423.71 366.02L423.71 366.16L421.39 365.39Z"/><path d="M423.46 365.93L425.79 366.69L425.79 366.78L423.46 366.08Z"/><path d="M425.54 366.61L427.86 367.31L427.86 367.34L425.54 366.71Z"/><path d="M427.61 367.23L429.93 367.86L429.93 367.86L427.61 367.28Z"/><path d="M429.68 367.79L432.00 368.36L432.00 368.32L429.68 367.79Z"/><path d="M431.75 368.30L434.07 368.82L434.07 368.74L431.75 368.26Z"/><path d="M433.82 368.76L436.15 369.22L436.15 369.12L433.82 368.69Z"/><path d="M435.90 369.17L438.22 369.58L438.22 369.46L435.90 369.07Z"/><path d="M437.97 369.53L440.29 369.89L440.29 369.76L437.97 369.42Z"/><path d="M440.04 369.85L442.36 370.17L442.36 370.03L440.04 369.73Z"/><path d="M442.11 370.13L444.43 370.40L444.43 370.27L442.11 370.00Z"/><path d="M444.18 370.37L446.51 370.60L446.51 370.47L444.18 370.24Z"/><path d="M446.26 370.58L448.58 370.77L448.58 370.64L446.26 370.44Z"/><path d="M448.33 370.75L450.65 370.91L450.65 370.79L448.33 370.62Z"/><path d="M450.40 370.90L452.72 371.03L452.72 370.92L450.40 370.77Z"/><path d="M452.47 371.01L454.79 371.12L454.79 371.02L452.47 370.90Z"/><path d="M454.54 371.10L456.87 371.18L456.87 371.10L454.54 371.01Z"/><path d="M456.62 371.17L458.94 371.23L458.94 371.16L456.62 371.09Z"/><path d="M458.69 371.22L461.01 371.26L461.01 371.21L458.69 371.15Z"/><path d="M460.76 371.26L463.08 371.27L463.08 371.24L460.76 371.20Z"/><path d="M462.83 371.27L465.15 371.28L465.15 371.26L462.83 371.23Z"/><path d="M464.90 371.28L467.23 371.27L467.23 371.27L464.90 371.26Z"/><path d="M466.98 371.27L469.30 371.26L469.30 371.27L466.98 371.27Z"/><path d="M469.05 371.26L471.37 371.23L471.37 371.27L469.05 371.27Z"/><path d="M471.12 371.24L473.44 371.21L473.44 371.27L471.12 371.27Z"/><path d="M473.19 371.21L475.51 371.19L475.51 371.26L473.19 371.27Z"/><path d="M475.26 371.19L477.59 371.17L477.59 371.26L475.26 371.26Z"/><path d="M477.34 371.17L479.66 371.15L479.66 371.25L477.34 371.26Z"/><path d="M479.41 371.15L481.73 371.14L481.73 371.26L479.41 371.25Z"/><path d="M481.48 371.14L483.80 371.14L483.80 371.27L481.48 371.26Z"/><path d="M483.55 371.14L485.87 371.15L485.87 371.29L483.55 371.27Z"/><path d="M485.62 371.15L487.95 371.18L487.95 371.32L485.62 371.28Z"/><path d="M487.70 371.17L490.02 371.22L490.02 371.36L487.70 371.31Z"/><path d="M489.77 371.21L492.09 371.28L492.09 371.42L489.77 371.36Z"/><path d="M491.84 371.28L494.16 371.37L494.16 371.50L491.84 371.41Z"/><path d="M493.91 371.36L496.23 371.48L496.23 371.60L493.91 371.49Z"/><path d="M495.98 371.47L498.31 371.62L498.31 371.72L495.98 371.58Z"/><path d="M498.06 371.61L500.38 371.80L500.38 371.86L498.06 371.70Z"/><path d="M500.13 371.78L501.05 371.86L501.05 371.91L500.13 371.84Z"/></g>
<path d="M298.3 73.5 L299.4 75.2 L300.5 76.9 L301.7 78.6 L302.8 80.3 L303.9 82.0 L305.0 83.7 L306.1 85.4 L307.2 87.2 L308.3 88.9 L309.3 90.6 L310.4 92.4 L311.4 94.1 L312.4 95.9 L313.3 97.7 L314.3 99.5 L315.2 101.3 L316.1 103.1 L316.9 104.9 L317.8 106.8 L318.6 108.6 L319.4 110.5 L320.2 112.3 L321.0 114.2 L321.8 116.1 L322.5 118.0 L323.1 119.9 L323.8 121.8 L324.4 123.7 L325.0 125.6 L325.6 127.5 L326.2 129.4 L326.8 131.3 L327.5 133.2 L328.1 135.1 L328.7 137.1 L329.3 139.0 L329.9 140.9 L330.5 142.9 L331.1 144.8 L331.7 146.8 L332.3 148.7 L332.9 150.7 L333.4 152.6 L334.0 154.6 L334.5 156.5 L335.1 158.5 L335.6 160.5 L336.1 162.4 L336.6 164.4 L337.1 166.4 L337.6 168.4 L338.1 170.3 L338.6 172.3 L339.1 174.3 L339.6 176.3 L340.1 178.2 L340.6 180.2 L341.1 182.2 L341.6 184.2 L342.1 186.2 L342.6 188.2 L343.1 190.2 L343.7 192.1 L344.2 194.1 L344.7 196.1 L345.2 198.1 L345.7 200.1 L346.2 202.1 L346.7 204.1 L347.2 206.1 L347.7 208.1 L348.2 210.0 L348.7 212.0 L349.2 214.0 L349.6 216.0 L350.1 218.0 L350.5 220.0 L351.0 222.0 L351.5 223.9 L351.9 225.9 L352.4 227.9 L352.8 229.9 L353.3 231.9 L353.8 233.8 L354.2 235.8 L354.7 237.8 L355.2 239.8 L355.7 241.7 L356.1 243.7 L356.6 245.7 L357.1 247.6 L357.7 249.6 L358.2 251.5 L358.7 253.5 L359.2 255.4 L359.7 257.4 L360.3 259.3 L360.8 261.3 L361.3 263.2 L361.9 265.2 L362.4 267.1 L363.0 269.0 L363.6 271.0 L364.1 272.9 L364.7 274.8 L365.3 276.8 L365.9 278.7 L366.5 280.6 L367.1 282.6 L367.7 284.5 L368.3 286.4 L369.0 288.4 L369.6 290.3 L370.3 292.3 L370.9 294.2 L371.6 296.1 L372.3 298.1 L373.0 300.0 L373.7 302.0 L374.4 303.9 L375.1 305.8 L375.9 307.8 L376.6 309.7 L377.3 311.7 L378.1 313.6 L378.9 315.6 L379.7 317.5 L380.5 319.5 L381.3 321.4 L382.1 323.3 L383.0 325.3 L383.8 327.1 L384.8 329.0 L385.7 330.9 L386.6 332.7 L387.6 334.5 L388.6 336.3 L389.6 338.1 L390.6 339.8 L391.7 341.5 L392.9 343.1 L394.0 344.8 L395.2 346.4 L396.5 347.9 L397.8 349.4 L399.1 350.8 L400.5 352.2 L401.9 353.6 L403.4 354.9 L404.9 356.1 L406.5 357.3 L408.1 358.4 L409.7 359.5 L411.4 360.5 L413.2 361.5 L415.0 362.4 L416.8 363.3 L418.6 364.1 L420.5 364.9 L422.4 365.6 L424.4 366.2 L426.3 366.9 L428.3 367.4 L430.3 367.9 L432.3 368.4 L434.3 368.9 L436.3 369.3 L438.3 369.6 L440.4 369.9 L442.4 370.2 L444.5 370.4 L446.5 370.6 L448.6 370.8 L450.6 370.9 L452.7 371.0 L454.8 371.1 L456.8 371.2 L458.9 371.2 L460.9 371.3 L463.0 371.3 L465.1 371.3 L467.1 371.3 L469.2 371.3 L471.3 371.2 L473.3 371.2 L475.4 371.2 L477.4 371.2 L479.5 371.2 L481.5 371.1 L483.6 371.1 L485.6 371.1 L487.6 371.2 L489.6 371.2 L491.6 371.3 L493.6 371.3 L495.6 371.4 L497.6 371.6 L499.6 371.7 L501.5 371.9" fill="none" stroke="#008000" stroke-width="2.10" stroke-linejoin="round"/>
<path d="M298.4 98.6 L300.3 98.0 L302.2 97.9 L303.9 98.2 L305.5 99.0 L306.9 100.0 L308.3 101.3 L309.6 102.8 L310.9 104.4 L312.1 106.1 L313.2 107.8 L314.3 109.5 L315.3 111.2 L316.3 113.0 L317.3 114.7 L318.2 116.4 L319.1 118.2 L319.9 119.9 L320.8 121.7 L321.5 123.5 L322.3 125.2 L323.0 127.0 L323.8 128.8 L324.5 130.6 L325.1 132.4 L325.8 134.2 L326.5 136.0 L327.1 137.8 L327.7 139.6 L328.3 141.4 L329.0 143.2 L329.6 145.0 L330.2 146.8 L330.8 148.7 L331.4 150.5 L331.9 152.3 L332.5 154.2 L333.1 156.0 L333.6 157.9 L334.2 159.7 L334.7 161.6 L335.3 163.4 L335.8 165.3 L336.3 167.1 L336.9 169.0 L337.4 170.8 L337.9 172.7 L338.4 174.6 L338.9 176.5 L339.4 178.3 L339.9 180.2 L340.4 182.1 L340.9 184.0 L341.4 185.8 L341.9 187.7 L342.4 189.6 L342.9 191.5 L343.4 193.4 L343.9 195.3 L344.4 197.1 L344.8 199.0 L345.3 200.9 L345.8 202.8 L346.4 204.7 L346.9 206.6 L347.4 208.5 L347.9 210.4 L348.4 212.3 L348.9 214.2 L349.4 216.1 L349.8 217.9 L350.3 219.8 L350.7 221.7 L351.2 223.6 L351.7 225.5 L352.1 227.4 L352.6 229.3 L353.0 231.2 L353.5 233.1 L353.9 235.0 L354.4 236.9 L354.9 238.7 L355.3 240.6 L355.8 242.5 L356.3 244.4 L356.8 246.3 L357.3 248.1 L357.7 250.0 L358.2 251.9 L358.7 253.8 L359.2 255.6 L359.7 257.5 L360.2 259.4 L360.7 261.2 L361.2 263.1 L361.7 265.0 L362.2 266.8 L362.7 268.7 L363.3 270.5 L363.8 272.4 L364.3 274.2 L364.8 276.1 L365.4 277.9 L365.9 279.8 L366.5 281.6 L367.0 283.4 L367.6 285.3 L368.2 287.1 L368.7 289.0 L369.3 290.8 L369.9 292.6 L370.6 294.5 L371.2 296.3 L371.8 298.1 L372.5 300.0 L373.1 301.8 L373.8 303.6 L374.4 305.4 L375.1 307.3 L375.8 309.1 L376.5 310.9 L377.3 312.8 L378.0 314.6 L378.7 316.4 L379.5 318.3 L380.3 320.1 L381.1 321.9 L381.9 323.7 L382.7 325.6 L383.5 327.4 L384.4 329.2 L385.2 331.0 L386.1 332.7 L387.0 334.5 L388.0 336.2 L388.9 337.9 L389.9 339.6 L391.0 341.3 L392.0 342.9 L393.1 344.5 L394.2 346.0 L395.4 347.6 L396.6 349.0 L397.9 350.5 L399.2 351.8 L400.5 353.2 L401.9 354.4 L403.3 355.7 L404.8 356.8 L406.4 357.9 L407.9 359.0 L409.6 360.0 L411.2 360.9 L412.9 361.8 L414.6 362.7 L416.4 363.5 L418.2 364.2 L420.0 364.9 L421.9 365.6 L423.7 366.2 L425.6 366.7 L427.5 367.3 L429.4 367.7 L431.3 368.2 L433.3 368.6 L435.2 369.0 L437.1 369.3 L439.1 369.6 L441.0 369.9 L442.9 370.1 L444.9 370.3 L446.8 370.5 L448.7 370.7 L450.6 370.8 L452.6 370.9 L454.5 371.0 L456.4 371.1 L458.4 371.1 L460.3 371.2 L462.2 371.2 L464.2 371.3 L466.1 371.3 L468.1 371.3 L470.0 371.3 L471.9 371.3 L473.9 371.3 L475.8 371.3 L477.7 371.3 L479.7 371.3 L481.6 371.3 L483.6 371.3 L485.5 371.3 L487.4 371.3 L489.4 371.3 L491.3 371.4 L493.3 371.5 L495.2 371.5 L497.2 371.6 L499.1 371.8 L501.1 371.9" fill="none" stroke="#008000" stroke-width="2.10" stroke-linejoin="round"/>

<g fill="#ffb2b2" stroke="none"><path d="M298.66 153.41L299.39 155.89L299.39 199.40L298.66 201.04Z"/><path d="M299.14 155.05L301.47 161.08L301.47 197.15L299.14 199.96Z"/><path d="M301.22 160.43L303.54 165.07L303.54 196.19L301.22 197.46Z"/><path d="M303.29 164.57L305.61 168.56L305.61 195.79L303.29 196.33Z"/><path d="M305.36 168.13L307.68 171.74L307.68 195.97L305.36 195.84Z"/><path d="M307.43 171.35L309.75 174.74L309.75 196.57L307.43 195.95Z"/><path d="M309.50 174.38L311.83 177.65L311.83 197.55L309.50 196.50Z"/><path d="M311.58 177.29L313.90 180.51L313.90 198.81L311.58 197.44Z"/><path d="M313.65 180.16L315.97 183.38L315.97 200.31L313.65 198.66Z"/><path d="M315.72 183.03L318.04 186.30L318.04 202.05L315.72 200.13Z"/><path d="M317.79 185.95L320.11 189.32L320.11 204.06L317.79 201.84Z"/><path d="M319.86 188.95L322.19 192.65L322.19 206.35L319.86 203.82Z"/><path d="M321.94 192.25L324.26 196.27L324.26 208.94L321.94 206.08Z"/><path d="M324.01 195.84L326.33 200.09L326.33 211.83L324.01 208.63Z"/><path d="M326.08 199.63L328.40 203.86L328.40 215.00L326.08 211.48Z"/><path d="M328.15 203.41L330.47 207.78L330.47 218.40L328.15 214.62Z"/><path d="M330.22 207.31L332.55 211.86L332.55 221.98L330.22 218.00Z"/><path d="M332.30 211.37L334.62 216.07L334.62 225.73L332.30 221.55Z"/><path d="M334.37 215.56L336.69 220.42L336.69 229.61L334.37 225.28Z"/><path d="M336.44 219.90L338.76 224.84L338.76 233.61L336.44 229.15Z"/><path d="M338.51 224.31L340.83 229.34L340.83 237.73L338.51 233.13Z"/><path d="M340.58 228.80L342.91 233.94L342.91 241.92L340.58 237.23Z"/><path d="M342.66 233.39L344.98 238.65L344.98 246.14L342.66 241.41Z"/><path d="M344.73 238.08L347.05 243.49L347.05 250.46L344.73 245.63Z"/><path d="M346.80 242.91L349.12 248.43L349.12 254.86L346.80 249.94Z"/><path d="M348.87 247.84L351.19 253.42L351.19 259.32L348.87 254.33Z"/><path d="M350.94 252.82L353.27 258.43L353.27 263.82L350.94 258.78Z"/><path d="M353.02 257.83L355.34 263.44L355.34 268.34L353.02 263.28Z"/><path d="M355.09 262.84L357.41 268.43L357.41 272.87L355.09 267.80Z"/><path d="M357.16 267.83L359.48 273.38L359.48 277.38L357.16 272.33Z"/><path d="M359.23 272.78L361.55 278.26L361.55 281.85L359.23 276.84Z"/><path d="M361.30 277.67L363.63 283.06L363.63 286.27L361.30 281.31Z"/><path d="M363.38 282.48L365.70 287.76L365.70 290.62L363.38 285.74Z"/><path d="M365.45 287.19L367.77 292.34L367.77 294.89L365.45 290.10Z"/><path d="M367.52 291.79L369.84 296.80L369.84 299.07L367.52 294.37Z"/><path d="M369.59 296.26L371.91 301.14L371.91 303.14L369.59 298.56Z"/><path d="M371.66 300.62L373.99 305.37L373.99 307.11L371.66 302.65Z"/><path d="M373.74 304.85L376.06 309.44L376.06 310.96L373.74 306.63Z"/><path d="M375.81 308.94L378.13 313.34L378.13 314.67L375.81 310.49Z"/><path d="M377.88 312.86L380.20 317.06L380.20 318.24L377.88 314.22Z"/><path d="M379.95 316.61L382.27 320.62L382.27 321.67L379.95 317.80Z"/><path d="M382.02 320.18L384.35 323.99L384.35 324.95L382.02 321.25Z"/><path d="M384.10 323.58L386.42 327.20L386.42 328.08L384.10 324.55Z"/><path d="M386.17 326.81L388.49 330.24L388.49 331.07L386.17 327.70Z"/><path d="M388.24 329.87L390.56 333.12L390.56 333.91L388.24 330.71Z"/><path d="M390.31 332.77L392.63 335.86L392.63 336.61L390.31 333.57Z"/><path d="M392.38 335.53L394.71 338.45L394.71 339.17L392.38 336.28Z"/><path d="M394.46 338.14L396.78 340.91L396.78 341.59L394.46 338.86Z"/><path d="M396.53 340.61L398.85 343.24L398.85 343.88L396.53 341.30Z"/><path d="M398.60 342.95L400.92 345.44L400.92 346.04L398.60 343.60Z"/><path d="M400.67 345.17L402.99 347.51L402.99 348.08L400.67 345.78Z"/><path d="M402.74 347.26L405.07 349.48L405.07 349.99L402.74 347.83Z"/><path d="M404.82 349.24L407.14 351.33L407.14 351.79L404.82 349.76Z"/><path d="M406.89 351.10L409.21 353.06L409.21 353.47L406.89 351.57Z"/><path d="M408.96 352.85L411.28 354.69L411.28 355.05L408.96 353.27Z"/><path d="M411.03 354.49L413.35 356.22L413.35 356.51L411.03 354.86Z"/><path d="M413.10 356.03L415.43 357.63L415.43 357.87L413.10 356.33Z"/><path d="M415.18 357.46L417.50 358.96L417.50 359.14L415.18 357.71Z"/><path d="M417.25 358.80L419.57 360.17L419.57 360.31L417.25 358.99Z"/><path d="M419.32 360.02L421.64 361.30L421.64 361.38L419.32 360.17Z"/><path d="M421.39 361.16L423.71 362.33L423.71 362.37L421.39 361.25Z"/><path d="M423.46 362.20L425.79 363.27L425.79 363.28L423.46 362.25Z"/><path d="M425.54 363.16L427.86 364.13L427.86 364.11L425.54 363.17Z"/><path d="M427.61 364.03L429.93 364.92L429.93 364.88L427.61 364.01Z"/><path d="M429.68 364.82L432.00 365.64L432.00 365.59L429.68 364.79Z"/><path d="M431.75 365.56L434.07 366.30L434.07 366.23L431.75 365.50Z"/><path d="M433.82 366.22L436.15 366.90L436.15 366.83L433.82 366.15Z"/><path d="M435.90 366.82L438.22 367.45L438.22 367.38L435.90 366.76Z"/><path d="M437.97 367.38L440.29 367.94L440.29 367.88L437.97 367.31Z"/><path d="M440.04 367.88L442.36 368.39L442.36 368.34L440.04 367.82Z"/><path d="M442.11 368.33L444.43 368.80L444.43 368.76L442.11 368.28Z"/><path d="M444.18 368.75L446.51 369.16L446.51 369.14L444.18 368.71Z"/><path d="M446.26 369.12L448.58 369.49L448.58 369.49L446.26 369.10Z"/><path d="M448.33 369.45L450.65 369.78L450.65 369.81L448.33 369.45Z"/><path d="M450.40 369.75L452.72 370.05L452.72 370.09L450.40 369.77Z"/><path d="M452.47 370.02L454.79 370.28L454.79 370.35L452.47 370.06Z"/><path d="M454.54 370.25L456.87 370.48L456.87 370.58L454.54 370.32Z"/><path d="M456.62 370.46L458.94 370.66L458.94 370.79L456.62 370.55Z"/><path d="M458.69 370.64L461.01 370.82L461.01 370.97L458.69 370.77Z"/><path d="M460.76 370.80L463.08 370.96L463.08 371.14L460.76 370.95Z"/><path d="M462.83 370.94L465.15 371.07L465.15 371.28L462.83 371.12Z"/><path d="M464.90 371.06L467.23 371.17L467.23 371.40L464.90 371.26Z"/><path d="M466.98 371.16L469.30 371.26L469.30 371.51L466.98 371.38Z"/><path d="M469.05 371.25L471.37 371.33L471.37 371.59L469.05 371.49Z"/><path d="M471.12 371.32L473.44 371.38L473.44 371.67L471.12 371.58Z"/><path d="M473.19 371.37L475.51 371.43L475.51 371.73L473.19 371.66Z"/><path d="M475.26 371.42L477.59 371.47L477.59 371.78L475.26 371.72Z"/><path d="M477.34 371.46L479.66 371.50L479.66 371.82L477.34 371.77Z"/><path d="M479.41 371.49L481.73 371.52L481.73 371.85L479.41 371.81Z"/><path d="M481.48 371.52L483.80 371.55L483.80 371.87L481.48 371.84Z"/><path d="M483.55 371.54L485.87 371.57L485.87 371.88L483.55 371.86Z"/><path d="M485.62 371.56L487.95 371.59L487.95 371.89L485.62 371.88Z"/><path d="M487.70 371.58L490.02 371.61L490.02 371.89L487.70 371.88Z"/><path d="M489.77 371.61L492.09 371.64L492.09 371.89L489.77 371.89Z"/><path d="M491.84 371.63L494.16 371.67L494.16 371.89L491.84 371.89Z"/><path d="M493.91 371.67L496.23 371.71L496.23 371.88L493.91 371.89Z"/><path d="M495.98 371.71L498.31 371.76L498.31 371.88L495.98 371.88Z"/><path d="M498.06 371.76L500.38 371.83L500.38 371.89L498.06 371.88Z"/><path d="M500.13 371.82L501.79 371.88L501.79 371.89L500.13 371.89Z"/></g>
<path d="M298.5 153.0 L299.0 154.6 L299.5 156.2 L300.1 157.7 L300.7 159.3 L301.4 160.8 L302.1 162.2 L302.8 163.7 L303.6 165.1 L304.4 166.6 L305.3 168.0 L306.1 169.3 L307.0 170.7 L307.9 172.1 L308.8 173.4 L309.8 174.8 L310.7 176.1 L311.7 177.5 L312.7 178.8 L313.6 180.1 L314.6 181.5 L315.5 182.8 L316.5 184.1 L317.5 185.5 L318.4 186.8 L319.3 188.2 L320.2 189.5 L321.1 190.9 L321.9 192.3 L322.8 193.6 L323.6 195.0 L324.4 196.4 L325.1 197.9 L325.9 199.3 L326.7 200.7 L327.5 202.1 L328.2 203.6 L329.0 205.0 L329.8 206.5 L330.5 207.9 L331.3 209.4 L332.0 210.8 L332.8 212.3 L333.5 213.8 L334.2 215.2 L334.9 216.7 L335.6 218.2 L336.3 219.7 L337.0 221.2 L337.7 222.7 L338.4 224.2 L339.1 225.6 L339.8 227.1 L340.5 228.6 L341.2 230.1 L341.9 231.7 L342.6 233.2 L343.2 234.7 L343.9 236.2 L344.6 237.7 L345.2 239.2 L345.9 240.7 L346.5 242.2 L347.2 243.8 L347.8 245.3 L348.4 246.8 L349.1 248.3 L349.7 249.8 L350.3 251.4 L351.0 252.9 L351.6 254.4 L352.2 255.9 L352.9 257.5 L353.5 259.0 L354.1 260.5 L354.8 262.1 L355.4 263.6 L356.0 265.1 L356.7 266.6 L357.3 268.2 L357.9 269.7 L358.6 271.2 L359.2 272.7 L359.8 274.2 L360.5 275.8 L361.1 277.3 L361.8 278.8 L362.4 280.3 L363.1 281.8 L363.8 283.3 L364.4 284.8 L365.1 286.4 L365.7 287.9 L366.4 289.4 L367.1 290.9 L367.8 292.4 L368.5 293.9 L369.2 295.4 L369.9 296.8 L370.6 298.3 L371.3 299.8 L372.0 301.3 L372.7 302.8 L373.4 304.3 L374.2 305.7 L374.9 307.2 L375.7 308.6 L376.4 310.1 L377.2 311.6 L378.0 313.0 L378.7 314.4 L379.5 315.9 L380.3 317.3 L381.2 318.7 L382.0 320.1 L382.8 321.6 L383.7 323.0 L384.6 324.3 L385.5 325.7 L386.4 327.1 L387.3 328.5 L388.2 329.8 L389.2 331.2 L390.1 332.5 L391.1 333.8 L392.1 335.2 L393.1 336.5 L394.2 337.8 L395.2 339.1 L396.3 340.3 L397.4 341.6 L398.5 342.8 L399.6 344.1 L400.8 345.3 L401.9 346.4 L403.1 347.6 L404.3 348.8 L405.5 349.9 L406.7 351.0 L408.0 352.0 L409.3 353.1 L410.5 354.1 L411.8 355.1 L413.2 356.1 L414.5 357.0 L415.9 357.9 L417.2 358.8 L418.6 359.6 L420.0 360.4 L421.4 361.2 L422.9 361.9 L424.3 362.6 L425.8 363.3 L427.3 363.9 L428.8 364.5 L430.3 365.1 L431.9 365.6 L433.4 366.1 L435.0 366.6 L436.5 367.0 L438.1 367.4 L439.7 367.8 L441.3 368.2 L442.9 368.5 L444.5 368.8 L446.2 369.1 L447.8 369.4 L449.4 369.6 L451.1 369.8 L452.7 370.0 L454.4 370.2 L456.1 370.4 L457.7 370.6 L459.4 370.7 L461.1 370.8 L462.8 370.9 L464.5 371.0 L466.1 371.1 L467.8 371.2 L469.5 371.3 L471.2 371.3 L472.9 371.4 L474.5 371.4 L476.2 371.4 L477.9 371.5 L479.6 371.5 L481.2 371.5 L482.9 371.5 L484.5 371.6 L486.2 371.6 L487.8 371.6 L489.5 371.6 L491.1 371.6 L492.7 371.6 L494.3 371.7 L495.9 371.7 L497.5 371.7 L499.1 371.8 L500.6 371.8 L502.2 371.9" fill="none" stroke="#ff0000" stroke-width="2.10" stroke-linejoin="round"/>
<path d="M298.7 201.0 L299.3 199.6 L300.2 198.3 L301.4 197.3 L302.7 196.5 L304.1 196.0 L305.5 195.8 L306.9 195.9 L308.3 196.1 L309.7 196.6 L311.1 197.2 L312.4 197.9 L313.7 198.7 L315.0 199.6 L316.2 200.5 L317.3 201.4 L318.5 202.4 L319.5 203.5 L320.6 204.6 L321.6 205.7 L322.6 206.8 L323.5 208.0 L324.5 209.2 L325.4 210.5 L326.2 211.7 L327.1 213.0 L327.9 214.3 L328.7 215.6 L329.5 216.9 L330.3 218.2 L331.1 219.5 L331.9 220.8 L332.6 222.2 L333.4 223.5 L334.1 224.8 L334.8 226.1 L335.5 227.4 L336.2 228.8 L336.9 230.1 L337.6 231.4 L338.3 232.7 L339.0 234.1 L339.7 235.4 L340.3 236.7 L341.0 238.1 L341.6 239.4 L342.3 240.7 L343.0 242.0 L343.6 243.4 L344.3 244.7 L344.9 246.0 L345.6 247.4 L346.2 248.7 L346.8 250.0 L347.5 251.3 L348.1 252.7 L348.7 254.0 L349.3 255.3 L350.0 256.7 L350.6 258.0 L351.2 259.3 L351.8 260.7 L352.4 262.0 L353.0 263.3 L353.7 264.7 L354.3 266.0 L354.9 267.3 L355.5 268.7 L356.1 270.0 L356.7 271.4 L357.3 272.7 L357.9 274.0 L358.6 275.4 L359.2 276.7 L359.8 278.1 L360.4 279.4 L361.0 280.7 L361.7 282.1 L362.3 283.4 L362.9 284.8 L363.6 286.1 L364.2 287.5 L364.8 288.8 L365.5 290.2 L366.1 291.5 L366.8 292.9 L367.4 294.2 L368.1 295.6 L368.8 296.9 L369.4 298.3 L370.1 299.6 L370.8 301.0 L371.5 302.3 L372.2 303.7 L372.9 305.0 L373.6 306.4 L374.3 307.7 L375.1 309.1 L375.8 310.4 L376.5 311.8 L377.3 313.1 L378.0 314.5 L378.8 315.8 L379.6 317.1 L380.3 318.5 L381.1 319.8 L381.9 321.1 L382.7 322.4 L383.5 323.7 L384.4 325.0 L385.2 326.3 L386.1 327.5 L386.9 328.8 L387.8 330.0 L388.6 331.3 L389.5 332.5 L390.4 333.7 L391.3 334.9 L392.3 336.1 L393.2 337.3 L394.1 338.5 L395.1 339.6 L396.1 340.8 L397.0 341.9 L398.0 343.0 L399.0 344.1 L400.1 345.1 L401.1 346.2 L402.1 347.2 L403.2 348.3 L404.3 349.3 L405.3 350.2 L406.4 351.2 L407.6 352.1 L408.7 353.1 L409.8 354.0 L411.0 354.8 L412.2 355.7 L413.4 356.5 L414.6 357.3 L415.8 358.1 L417.0 358.8 L418.3 359.6 L419.5 360.3 L420.8 361.0 L422.1 361.6 L423.4 362.2 L424.8 362.8 L426.1 363.4 L427.5 364.0 L428.9 364.5 L430.3 365.0 L431.7 365.5 L433.1 365.9 L434.5 366.4 L436.0 366.8 L437.4 367.2 L438.9 367.5 L440.3 367.9 L441.8 368.2 L443.3 368.5 L444.8 368.8 L446.3 369.1 L447.8 369.4 L449.3 369.6 L450.9 369.8 L452.4 370.0 L453.9 370.2 L455.4 370.4 L457.0 370.6 L458.5 370.7 L460.1 370.9 L461.6 371.0 L463.2 371.1 L464.7 371.2 L466.2 371.3 L467.8 371.4 L469.3 371.5 L470.9 371.6 L472.4 371.6 L473.9 371.7 L475.5 371.7 L477.0 371.8 L478.5 371.8 L480.0 371.8 L481.6 371.8 L483.1 371.9 L484.6 371.9 L486.1 371.9 L487.5 371.9 L489.0 371.9 L490.5 371.9 L491.9 371.9 L493.4 371.9 L494.8 371.9 L496.2 371.9 L497.6 371.9 L499.0 371.9 L500.4 371.9 L501.8 371.9" fill="none" stroke="#ff0000" stroke-width="2.10" stroke-linejoin="round"/>

<g fill="#b2b2ff" stroke="none"><path d="M299.02 351.66L301.47 353.36L301.47 369.61L299.02 371.27Z"/><path d="M301.22 353.18L303.54 354.27L303.54 368.50L301.22 369.78Z"/><path d="M303.29 354.15L305.61 354.86L305.61 367.57L303.29 368.64Z"/><path d="M305.36 354.78L307.68 355.18L307.68 366.77L305.36 367.69Z"/><path d="M307.43 355.13L309.75 355.28L309.75 366.06L307.43 366.87Z"/><path d="M309.50 355.27L311.83 355.21L311.83 365.39L309.50 366.15Z"/><path d="M311.58 355.22L313.90 354.99L313.90 364.75L311.58 365.47Z"/><path d="M313.65 355.01L315.97 354.64L315.97 364.09L313.65 364.83Z"/><path d="M315.72 354.68L318.04 354.17L318.04 363.41L315.72 364.17Z"/><path d="M317.79 354.22L320.11 353.59L320.11 362.70L317.79 363.49Z"/><path d="M319.86 353.66L322.19 352.91L322.19 361.96L319.86 362.78Z"/><path d="M321.94 352.99L324.26 352.15L324.26 361.19L321.94 362.05Z"/><path d="M324.01 352.24L326.33 351.30L326.33 360.39L324.01 361.28Z"/><path d="M326.08 351.40L328.40 350.38L328.40 359.56L326.08 360.49Z"/><path d="M328.15 350.49L330.47 349.40L330.47 358.70L328.15 359.66Z"/><path d="M330.22 349.52L332.55 348.38L332.55 357.81L330.22 358.80Z"/><path d="M332.30 348.50L334.62 347.33L334.62 356.88L332.30 357.92Z"/><path d="M334.37 347.46L336.69 346.26L336.69 355.93L334.37 357.00Z"/><path d="M336.44 346.39L338.76 345.18L338.76 354.94L336.44 356.04Z"/><path d="M338.51 345.31L340.83 344.11L340.83 353.92L338.51 355.05Z"/><path d="M340.58 344.24L342.91 343.06L342.91 352.89L340.58 354.04Z"/><path d="M342.66 343.19L344.98 342.05L344.98 351.86L342.66 353.01Z"/><path d="M344.73 342.17L347.05 341.08L347.05 350.85L344.73 351.98Z"/><path d="M346.80 341.20L349.12 340.17L349.12 349.87L346.80 350.97Z"/><path d="M348.87 340.28L351.19 339.33L351.19 348.95L348.87 349.99Z"/><path d="M350.94 339.43L353.27 338.56L353.27 348.09L350.94 349.06Z"/><path d="M353.02 338.66L355.34 337.89L355.34 347.31L353.02 348.20Z"/><path d="M355.09 337.97L357.41 337.32L357.41 346.62L355.09 347.40Z"/><path d="M357.16 337.39L359.48 336.85L359.48 346.03L357.16 346.70Z"/><path d="M359.23 336.91L361.55 336.51L361.55 345.56L359.23 346.11Z"/><path d="M361.30 336.55L363.63 336.28L363.63 345.22L361.30 345.62Z"/><path d="M363.38 336.31L365.70 336.17L365.70 344.99L363.38 345.26Z"/><path d="M365.45 336.19L367.77 336.17L367.77 344.87L365.45 345.02Z"/><path d="M367.52 336.17L369.84 336.26L369.84 344.85L367.52 344.88Z"/><path d="M369.59 336.25L371.91 336.45L371.91 344.91L369.59 344.85Z"/><path d="M371.66 336.43L373.99 336.73L373.99 345.06L371.66 344.91Z"/><path d="M373.74 336.69L376.06 337.08L376.06 345.28L373.74 345.04Z"/><path d="M375.81 337.04L378.13 337.51L378.13 345.57L375.81 345.26Z"/><path d="M377.88 337.46L380.20 338.01L380.20 345.92L377.88 345.54Z"/><path d="M379.95 337.95L382.27 338.57L382.27 346.32L379.95 345.88Z"/><path d="M382.02 338.51L384.35 339.20L384.35 346.77L382.02 346.28Z"/><path d="M384.10 339.12L386.42 339.88L386.42 347.26L384.10 346.72Z"/><path d="M386.17 339.80L388.49 340.61L388.49 347.78L386.17 347.20Z"/><path d="M388.24 340.52L390.56 341.39L390.56 348.32L388.24 347.71Z"/><path d="M390.31 341.29L392.63 342.21L392.63 348.89L390.31 348.26Z"/><path d="M392.38 342.11L394.71 343.06L394.71 349.48L392.38 348.82Z"/><path d="M394.46 342.96L396.78 343.95L396.78 350.08L394.46 349.41Z"/><path d="M396.53 343.85L398.85 344.87L398.85 350.71L396.53 350.01Z"/><path d="M398.60 344.76L400.92 345.80L400.92 351.35L398.60 350.63Z"/><path d="M400.67 345.69L402.99 346.74L402.99 352.00L400.67 351.27Z"/><path d="M402.74 346.63L405.07 347.69L405.07 352.67L402.74 351.92Z"/><path d="M404.82 347.57L407.14 348.63L407.14 353.34L404.82 352.59Z"/><path d="M406.89 348.51L409.21 349.56L409.21 354.02L406.89 353.26Z"/><path d="M408.96 349.45L411.28 350.47L411.28 354.71L408.96 353.94Z"/><path d="M411.03 350.36L413.35 351.36L413.35 355.40L411.03 354.63Z"/><path d="M413.10 351.25L415.43 352.22L415.43 356.09L413.10 355.32Z"/><path d="M415.18 352.11L417.50 353.04L417.50 356.78L415.18 356.01Z"/><path d="M417.25 352.94L419.57 353.81L419.57 357.46L417.25 356.70Z"/><path d="M419.32 353.72L421.64 354.54L421.64 358.14L419.32 357.38Z"/><path d="M421.39 354.45L423.71 355.23L423.71 358.82L421.39 358.06Z"/><path d="M423.46 355.15L425.79 355.88L425.79 359.48L423.46 358.74Z"/><path d="M425.54 355.80L427.86 356.50L427.86 360.13L425.54 359.40Z"/><path d="M427.61 356.42L429.93 357.08L429.93 360.76L427.61 360.05Z"/><path d="M429.68 357.01L432.00 357.64L432.00 361.38L429.68 360.69Z"/><path d="M431.75 357.57L434.07 358.17L434.07 361.98L431.75 361.31Z"/><path d="M433.82 358.10L436.15 358.67L436.15 362.56L433.82 361.91Z"/><path d="M435.90 358.61L438.22 359.15L438.22 363.12L435.90 362.49Z"/><path d="M437.97 359.09L440.29 359.62L440.29 363.66L437.97 363.05Z"/><path d="M440.04 359.56L442.36 360.06L442.36 364.17L440.04 363.59Z"/><path d="M442.11 360.01L444.43 360.49L444.43 364.65L442.11 364.10Z"/><path d="M444.18 360.44L446.51 360.91L446.51 365.10L444.18 364.59Z"/><path d="M446.26 360.85L448.58 361.31L448.58 365.52L446.26 365.04Z"/><path d="M448.33 361.26L450.65 361.70L450.65 365.92L448.33 365.47Z"/><path d="M450.40 361.65L452.72 362.07L452.72 366.30L450.40 365.87Z"/><path d="M452.47 362.03L454.79 362.43L454.79 366.65L452.47 366.25Z"/><path d="M454.54 362.39L456.87 362.78L456.87 366.98L454.54 366.60Z"/><path d="M456.62 362.74L458.94 363.12L458.94 367.29L456.62 366.94Z"/><path d="M458.69 363.08L461.01 363.45L461.01 367.57L458.69 367.25Z"/><path d="M460.76 363.41L463.08 363.76L463.08 367.85L460.76 367.54Z"/><path d="M462.83 363.72L465.15 364.06L465.15 368.10L462.83 367.81Z"/><path d="M464.90 364.02L467.23 364.34L467.23 368.34L464.90 368.07Z"/><path d="M466.98 364.31L469.30 364.62L469.30 368.57L466.98 368.31Z"/><path d="M469.05 364.58L471.37 364.88L471.37 368.78L469.05 368.54Z"/><path d="M471.12 364.85L473.44 365.13L473.44 368.98L471.12 368.75Z"/><path d="M473.19 365.10L475.51 365.37L475.51 369.17L473.19 368.96Z"/><path d="M475.26 365.34L477.59 365.59L477.59 369.35L475.26 369.15Z"/><path d="M477.34 365.56L479.66 365.81L479.66 369.52L477.34 369.33Z"/><path d="M479.41 365.78L481.73 366.01L481.73 369.69L479.41 369.50Z"/><path d="M481.48 365.98L483.80 366.20L483.80 369.84L481.48 369.67Z"/><path d="M483.55 366.18L485.87 366.38L485.87 370.00L483.55 369.82Z"/><path d="M485.62 366.36L487.95 366.54L487.95 370.14L485.62 369.98Z"/><path d="M487.70 366.52L490.02 366.70L490.02 370.29L487.70 370.13Z"/><path d="M489.77 366.68L492.09 366.85L492.09 370.43L489.77 370.27Z"/><path d="M491.84 366.83L494.16 366.98L494.16 370.58L491.84 370.42Z"/><path d="M493.91 366.96L496.23 367.10L496.23 370.72L493.91 370.56Z"/><path d="M495.98 367.09L498.31 367.21L498.31 370.86L495.98 370.70Z"/><path d="M498.06 367.20L500.38 367.32L500.38 371.01L498.06 370.85Z"/><path d="M500.13 367.30L501.99 367.39L501.99 371.13L500.13 370.99Z"/></g>
<path d="M298.3 351.0 L299.2 351.8 L300.1 352.5 L301.0 353.0 L301.9 353.6 L302.9 354.0 L303.8 354.4 L304.8 354.7 L305.8 354.9 L306.9 355.1 L307.9 355.2 L308.9 355.3 L310.0 355.3 L311.0 355.3 L312.1 355.2 L313.1 355.1 L314.2 354.9 L315.2 354.8 L316.3 354.6 L317.3 354.3 L318.4 354.1 L319.4 353.8 L320.4 353.5 L321.4 353.2 L322.4 352.8 L323.4 352.5 L324.4 352.1 L325.4 351.7 L326.4 351.2 L327.4 350.8 L328.4 350.4 L329.4 349.9 L330.4 349.4 L331.4 349.0 L332.4 348.5 L333.4 348.0 L334.3 347.5 L335.3 347.0 L336.3 346.5 L337.3 345.9 L338.3 345.4 L339.2 344.9 L340.2 344.4 L341.2 343.9 L342.2 343.4 L343.2 342.9 L344.1 342.5 L345.1 342.0 L346.1 341.5 L347.1 341.1 L348.1 340.6 L349.1 340.2 L350.1 339.8 L351.0 339.4 L352.0 339.0 L353.0 338.6 L354.0 338.3 L355.0 338.0 L356.0 337.7 L357.1 337.4 L358.1 337.2 L359.1 336.9 L360.1 336.7 L361.1 336.6 L362.2 336.4 L363.2 336.3 L364.2 336.2 L365.3 336.2 L366.3 336.2 L367.3 336.2 L368.4 336.2 L369.4 336.2 L370.5 336.3 L371.5 336.4 L372.6 336.5 L373.6 336.7 L374.7 336.8 L375.7 337.0 L376.8 337.2 L377.8 337.5 L378.9 337.7 L379.9 337.9 L381.0 338.2 L382.0 338.5 L383.1 338.8 L384.1 339.1 L385.1 339.5 L386.2 339.8 L387.2 340.1 L388.2 340.5 L389.2 340.9 L390.3 341.3 L391.3 341.7 L392.3 342.1 L393.3 342.5 L394.3 342.9 L395.3 343.3 L396.2 343.7 L397.2 344.1 L398.2 344.6 L399.2 345.0 L400.2 345.5 L401.1 345.9 L402.1 346.3 L403.1 346.8 L404.1 347.2 L405.0 347.7 L406.0 348.1 L407.0 348.6 L408.0 349.0 L408.9 349.4 L409.9 349.9 L410.9 350.3 L411.9 350.7 L412.9 351.1 L413.8 351.6 L414.8 352.0 L415.8 352.4 L416.8 352.8 L417.8 353.1 L418.8 353.5 L419.8 353.9 L420.8 354.2 L421.8 354.6 L422.8 354.9 L423.8 355.3 L424.9 355.6 L425.9 355.9 L426.9 356.2 L427.9 356.5 L429.0 356.8 L430.0 357.1 L431.0 357.4 L432.1 357.7 L433.1 357.9 L434.2 358.2 L435.2 358.4 L436.2 358.7 L437.3 358.9 L438.3 359.2 L439.4 359.4 L440.4 359.6 L441.5 359.9 L442.5 360.1 L443.6 360.3 L444.6 360.5 L445.7 360.7 L446.7 361.0 L447.8 361.2 L448.9 361.4 L449.9 361.6 L451.0 361.8 L452.0 361.9 L453.1 362.1 L454.1 362.3 L455.2 362.5 L456.2 362.7 L457.3 362.9 L458.3 363.0 L459.4 363.2 L460.5 363.4 L461.5 363.5 L462.6 363.7 L463.6 363.8 L464.7 364.0 L465.8 364.1 L466.8 364.3 L467.9 364.4 L468.9 364.6 L470.0 364.7 L471.1 364.8 L472.1 365.0 L473.2 365.1 L474.2 365.2 L475.3 365.3 L476.4 365.5 L477.4 365.6 L478.5 365.7 L479.6 365.8 L480.6 365.9 L481.7 366.0 L482.7 366.1 L483.8 366.2 L484.9 366.3 L485.9 366.4 L487.0 366.5 L488.1 366.6 L489.2 366.6 L490.2 366.7 L491.3 366.8 L492.4 366.9 L493.4 366.9 L494.5 367.0 L495.6 367.1 L496.6 367.1 L497.7 367.2 L498.8 367.2 L499.9 367.3 L500.9 367.3 L502.0 367.4" fill="none" stroke="#0000ff" stroke-width="2.10" stroke-linejoin="round"/>
<path d="M299.0 371.3 L299.9 370.6 L300.8 370.1 L301.7 369.5 L302.6 369.0 L303.5 368.5 L304.5 368.1 L305.4 367.6 L306.4 367.3 L307.4 366.9 L308.4 366.5 L309.4 366.2 L310.4 365.8 L311.5 365.5 L312.5 365.2 L313.5 364.9 L314.5 364.6 L315.5 364.2 L316.5 363.9 L317.5 363.6 L318.5 363.2 L319.5 362.9 L320.5 362.5 L321.5 362.2 L322.5 361.8 L323.5 361.5 L324.5 361.1 L325.5 360.7 L326.4 360.3 L327.4 360.0 L328.4 359.6 L329.4 359.2 L330.3 358.8 L331.3 358.3 L332.3 357.9 L333.3 357.5 L334.2 357.1 L335.2 356.6 L336.2 356.2 L337.1 355.7 L338.1 355.3 L339.1 354.8 L340.0 354.3 L341.0 353.8 L342.0 353.3 L343.0 352.9 L343.9 352.4 L344.9 351.9 L345.9 351.4 L346.9 350.9 L347.9 350.5 L348.8 350.0 L349.8 349.6 L350.8 349.1 L351.8 348.7 L352.8 348.3 L353.8 347.9 L354.8 347.5 L355.8 347.1 L356.8 346.8 L357.8 346.5 L358.8 346.2 L359.8 345.9 L360.9 345.7 L361.9 345.5 L362.9 345.3 L363.9 345.2 L365.0 345.1 L366.0 345.0 L367.0 344.9 L368.1 344.9 L369.1 344.8 L370.1 344.9 L371.2 344.9 L372.2 344.9 L373.3 345.0 L374.3 345.1 L375.4 345.2 L376.4 345.3 L377.5 345.5 L378.5 345.6 L379.6 345.8 L380.6 346.0 L381.7 346.2 L382.7 346.4 L383.8 346.6 L384.8 346.9 L385.9 347.1 L386.9 347.4 L387.9 347.6 L389.0 347.9 L390.0 348.2 L391.1 348.5 L392.1 348.7 L393.1 349.0 L394.2 349.3 L395.2 349.6 L396.2 349.9 L397.2 350.2 L398.3 350.5 L399.3 350.8 L400.3 351.2 L401.3 351.5 L402.3 351.8 L403.3 352.1 L404.4 352.4 L405.4 352.8 L406.4 353.1 L407.4 353.4 L408.4 353.8 L409.4 354.1 L410.4 354.4 L411.4 354.8 L412.4 355.1 L413.5 355.4 L414.5 355.8 L415.5 356.1 L416.5 356.4 L417.5 356.8 L418.5 357.1 L419.5 357.4 L420.5 357.8 L421.5 358.1 L422.5 358.4 L423.5 358.8 L424.5 359.1 L425.5 359.4 L426.6 359.7 L427.6 360.0 L428.6 360.4 L429.6 360.7 L430.6 361.0 L431.6 361.3 L432.6 361.6 L433.7 361.9 L434.7 362.2 L435.7 362.4 L436.7 362.7 L437.7 363.0 L438.8 363.3 L439.8 363.5 L440.8 363.8 L441.8 364.0 L442.9 364.3 L443.9 364.5 L444.9 364.8 L446.0 365.0 L447.0 365.2 L448.0 365.4 L449.1 365.6 L450.1 365.8 L451.2 366.0 L452.2 366.2 L453.3 366.4 L454.3 366.6 L455.4 366.7 L456.4 366.9 L457.5 367.1 L458.5 367.2 L459.6 367.4 L460.7 367.5 L461.7 367.7 L462.8 367.8 L463.8 367.9 L464.9 368.1 L466.0 368.2 L467.0 368.3 L468.1 368.4 L469.1 368.5 L470.2 368.7 L471.3 368.8 L472.3 368.9 L473.4 369.0 L474.5 369.1 L475.5 369.2 L476.6 369.3 L477.7 369.4 L478.7 369.4 L479.8 369.5 L480.9 369.6 L481.9 369.7 L483.0 369.8 L484.1 369.9 L485.1 369.9 L486.2 370.0 L487.2 370.1 L488.3 370.2 L489.4 370.2 L490.4 370.3 L491.5 370.4 L492.5 370.5 L493.6 370.5 L494.6 370.6 L495.7 370.7 L496.7 370.8 L497.8 370.8 L498.9 370.9 L499.9 371.0 L500.9 371.1 L502.0 371.1" fill="none" stroke="#0000ff" stroke-width="2.10" stroke-linejoin="round"/>

</g>
<path d="M84.81 372.25v-2.40M84.81 34.85v2.40M96.61 372.25v-2.40M96.61 34.85v2.40M108.42 372.25v-2.40M108.42 34.85v2.40M120.22 372.25v-2.40M120.22 34.85v2.40M132.03 372.25v-4.60M132.03 34.85v4.60M143.83 372.25v-2.40M143.83 34.85v2.40M155.64 372.25v-2.40M155.64 34.85v2.40M167.45 372.25v-2.40M167.45 34.85v2.40M179.25 372.25v-2.40M179.25 34.85v2.40M191.06 372.25v-4.60M191.06 34.85v4.60M202.86 372.25v-2.40M202.86 34.85v2.40M214.67 372.25v-2.40M214.67 34.85v2.40M226.47 372.25v-2.40M226.47 34.85v2.40M238.28 372.25v-2.40M238.28 34.85v2.40M250.09 372.25v-4.60M250.09 34.85v4.60M261.89 372.25v-2.40M261.89 34.85v2.40M273.70 372.25v-2.40M273.70 34.85v2.40M73.00 349.76h2.40M279.60 349.76h-2.40M73.00 327.26h2.40M279.60 327.26h-2.40M73.00 304.77h4.60M279.60 304.77h-4.60M73.00 282.28h2.40M279.60 282.28h-2.40M73.00 259.78h2.40M279.60 259.78h-2.40M73.00 237.29h4.60M279.60 237.29h-4.60M73.00 214.80h2.40M279.60 214.80h-2.40M73.00 192.30h2.40M279.60 192.30h-2.40M73.00 169.81h4.60M279.60 169.81h-4.60M73.00 147.32h2.40M279.60 147.32h-2.40M73.00 124.82h2.40M279.60 124.82h-2.40M73.00 102.33h4.60M279.60 102.33h-4.60M73.00 79.84h2.40M279.60 79.84h-2.40M73.00 57.34h2.40M279.60 57.34h-2.40" stroke="#000" stroke-width="1.1" fill="none"/>
<path d="M72.50 34.85H280.10M72.50 372.25H280.10" stroke="#000" stroke-width="1.2" fill="none"/>
<path d="M73.00 34.85V372.25M279.60 34.85V372.25" stroke="#000" stroke-width="1.0" fill="none"/>
<text x="73.0" y="390.4" font-size="14" text-anchor="middle">0.0</text>
<text x="132.0" y="390.4" font-size="14" text-anchor="middle">1.0</text>
<text x="191.1" y="390.4" font-size="14" text-anchor="middle">2.0</text>
<text x="250.1" y="390.4" font-size="14" text-anchor="middle">3.0</text>
<text x="64.7" y="376.8" font-size="14" text-anchor="end">0.00</text>
<text x="64.7" y="309.3" font-size="14" text-anchor="end">0.03</text>
<text x="64.7" y="241.8" font-size="14" text-anchor="end">0.06</text>
<text x="64.7" y="174.4" font-size="14" text-anchor="end">0.09</text>
<text x="64.7" y="106.9" font-size="14" text-anchor="end">0.12</text>
<text x="64.7" y="39.4" font-size="14" text-anchor="end">0.15</text>
<path d="M306.55 372.25v-2.40M306.55 34.85v2.40M318.39 372.25v-2.40M318.39 34.85v2.40M330.24 372.25v-2.40M330.24 34.85v2.40M342.08 372.25v-2.40M342.08 34.85v2.40M353.93 372.25v-4.60M353.93 34.85v4.60M365.77 372.25v-2.40M365.77 34.85v2.40M377.62 372.25v-2.40M377.62 34.85v2.40M389.47 372.25v-2.40M389.47 34.85v2.40M401.31 372.25v-2.40M401.31 34.85v2.40M413.16 372.25v-4.60M413.16 34.85v4.60M425.00 372.25v-2.40M425.00 34.85v2.40M436.85 372.25v-2.40M436.85 34.85v2.40M448.69 372.25v-2.40M448.69 34.85v2.40M460.54 372.25v-2.40M460.54 34.85v2.40M472.39 372.25v-4.60M472.39 34.85v4.60M484.23 372.25v-2.40M484.23 34.85v2.40M496.08 372.25v-2.40M496.08 34.85v2.40M294.70 349.76h2.40M502.00 349.76h-2.40M294.70 327.26h2.40M502.00 327.26h-2.40M294.70 304.77h4.60M502.00 304.77h-4.60M294.70 282.28h2.40M502.00 282.28h-2.40M294.70 259.78h2.40M502.00 259.78h-2.40M294.70 237.29h4.60M502.00 237.29h-4.60M294.70 214.80h2.40M502.00 214.80h-2.40M294.70 192.30h2.40M502.00 192.30h-2.40M294.70 169.81h4.60M502.00 169.81h-4.60M294.70 147.32h2.40M502.00 147.32h-2.40M294.70 124.82h2.40M502.00 124.82h-2.40M294.70 102.33h4.60M502.00 102.33h-4.60M294.70 79.84h2.40M502.00 79.84h-2.40M294.70 57.34h2.40M502.00 57.34h-2.40" stroke="#000" stroke-width="1.1" fill="none"/>
<path d="M294.20 34.85H502.50M294.20 372.25H502.50" stroke="#000" stroke-width="1.2" fill="none"/>
<path d="M294.70 34.85V372.25M502.00 34.85V372.25" stroke="#000" stroke-width="1.0" fill="none"/>
<text x="294.7" y="390.4" font-size="14" text-anchor="middle">0.0</text>
<text x="353.9" y="390.4" font-size="14" text-anchor="middle">1.0</text>
<text x="413.2" y="390.4" font-size="14" text-anchor="middle">2.0</text>
<text x="472.4" y="390.4" font-size="14" text-anchor="middle">3.0</text>
<text x="510.2" y="376.8" font-size="14" text-anchor="start">0.00</text>
<text x="510.2" y="309.3" font-size="14" text-anchor="start">0.03</text>
<text x="510.2" y="241.8" font-size="14" text-anchor="start">0.06</text>
<text x="510.2" y="174.4" font-size="14" text-anchor="start">0.09</text>
<text x="510.2" y="106.9" font-size="14" text-anchor="start">0.12</text>
<text x="510.2" y="39.4" font-size="14" text-anchor="start">0.15</text>
<text x="176.3" y="411.8" font-size="14" text-anchor="middle">r [ fm ]</text>
<text x="398.4" y="411.8" font-size="14" text-anchor="middle">r [ fm ]</text>
<g transform="translate(22.0 203.5) rotate(-90)"><text x="0" y="0" font-size="14" text-anchor="middle"><tspan font-family="'Liberation Serif',serif">ρ</tspan> [ fm<tspan font-size="11.2" dy="-7.0">-3</tspan><tspan dy="7.0"> ]</tspan></text></g>
<rect x="164.4" y="50.0" width="102.8" height="81.8" fill="#fff" stroke="#000" stroke-width="1.0"/>
<rect x="229.5" y="57.0" width="29.5" height="13.4" fill="#008000" fill-opacity="0.3"/>
<text x="199.4" y="67.4" font-size="14">He</text>
<text x="196.8" y="61.8" font-size="11.2" text-anchor="middle">4</text>
<text x="174.6" y="67.7" font-size="14" font-family="'Liberation Serif',serif">ρ</text>
<text x="181.6" y="72.7" font-size="11.2">N</text>
<rect x="229.5" y="84.3" width="29.5" height="13.4" fill="#ff0000" fill-opacity="0.3"/>
<text x="199.4" y="95.5" font-size="14">He</text>
<text x="194.9" y="88.6" font-size="11.2" text-anchor="middle">5</text>
<text x="195.5" y="100.0" font-size="12.0" text-anchor="middle" font-family="'Liberation Serif',serif">Λ</text>
<text x="172.4" y="95.0" font-size="14" font-family="'Liberation Serif',serif">ρ</text>
<text x="180.2" y="99.6" font-size="11.2">N</text>
<rect x="229.5" y="111.5" width="29.5" height="13.4" fill="#0000ff" fill-opacity="0.3"/>
<text x="199.4" y="122.8" font-size="14">He</text>
<text x="194.9" y="116.1" font-size="11.2" text-anchor="middle">5</text>
<text x="195.5" y="126.8" font-size="12.0" text-anchor="middle" font-family="'Liberation Serif',serif">Λ</text>
<text x="173.2" y="122.7" font-size="14" font-family="'Liberation Serif',serif">ρ</text>
<text x="184.5" y="126.8" font-size="12.0" text-anchor="middle" font-family="'Liberation Serif',serif">Λ</text>
<rect x="386.9" y="50.0" width="102.8" height="81.8" fill="#fff" stroke="#000" stroke-width="1.0"/>
<rect x="452.0" y="57.0" width="29.5" height="13.4" fill="#008000" fill-opacity="0.3"/>
<text x="421.9" y="67.4" font-size="14">He</text>
<text x="419.3" y="61.8" font-size="11.2" text-anchor="middle">4</text>
<text x="397.1" y="67.7" font-size="14" font-family="'Liberation Serif',serif">ρ</text>
<text x="404.1" y="72.7" font-size="11.2">N</text>
<rect x="452.0" y="84.3" width="29.5" height="13.4" fill="#ff0000" fill-opacity="0.3"/>
<text x="421.9" y="95.5" font-size="14">He</text>
<text x="417.4" y="88.6" font-size="11.2" text-anchor="middle">5</text>
<text x="418.0" y="100.0" font-size="12.0" text-anchor="middle" font-family="'Liberation Serif',serif">Λ</text>
<text x="394.9" y="95.0" font-size="14" font-family="'Liberation Serif',serif">ρ</text>
<text x="402.7" y="99.6" font-size="11.2">N</text>
<rect x="452.0" y="111.5" width="29.5" height="13.4" fill="#0000ff" fill-opacity="0.3"/>
<text x="421.9" y="122.8" font-size="14">He</text>
<text x="417.4" y="116.1" font-size="11.2" text-anchor="middle">5</text>
<text x="418.0" y="126.8" font-size="12.0" text-anchor="middle" font-family="'Liberation Serif',serif">Λ</text>
<text x="395.7" y="122.7" font-size="14" font-family="'Liberation Serif',serif">ρ</text>
<text x="407.0" y="126.8" font-size="12.0" text-anchor="middle" font-family="'Liberation Serif',serif">Λ</text>
</svg>
</body></html>
